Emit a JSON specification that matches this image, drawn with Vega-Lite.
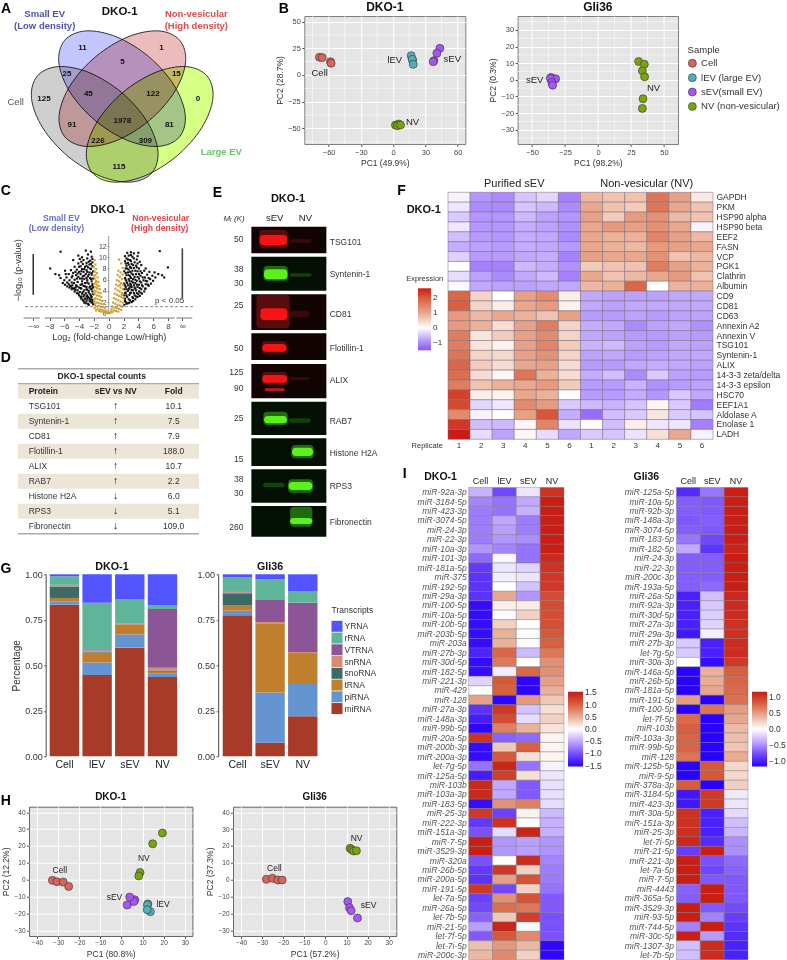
{"$schema":"https://vega.github.io/schema/vega-lite/v6.json","padding":0,"background":"white",
"config":{"font":"Liberation Sans","view":{"stroke":null},"text":{"baseline":"middle","align":"center","font":"Liberation Sans","color":"#222"},"axis":{"labelFont":"Liberation Sans","titleFont":"Liberation Sans","titleFontWeight":"normal","labelColor":"#444","titleColor":"#333","tickColor":"#555","gridColor":"#fff","grid":false,"tickSize":2.5,"domain":false,"labelFontSize":7.5,"titleFontSize":8.5,"labelPadding":1.5,"titlePadding":3},"legend":{"labelFont":"Liberation Sans","titleFont":"Liberation Sans","titleFontWeight":"normal","labelColor":"#333","titleColor":"#333","labelOverlap":false},"title":{"font":"Liberation Sans","fontWeight":"bold","fontSize":11,"color":"#111","anchor":"middle"}},
"datasets":{
"vb":[{"x":-2.1,"y":1.6},{"x":-2.3,"y":1.9},{"x":-2.2,"y":2.4},{"x":-2.5,"y":2.1},{"x":-2.8,"y":1.7},{"x":-2.6,"y":2.7},{"x":-3.0,"y":2.2},{"x":-2.4,"y":3.1},{"x":-2.1,"y":3.4},{"x":-3.2,"y":2.6},{"x":-3.5,"y":2.4},{"x":-2.9,"y":3.2},{"x":-3.4,"y":3.0},{"x":-2.2,"y":3.9},{"x":-2.7,"y":3.7},{"x":-3.8,"y":2.9},{"x":-3.1,"y":3.6},{"x":-4.0,"y":3.2},{"x":-3.6,"y":3.5},{"x":-2.4,"y":4.3},{"x":-2.1,"y":4.6},{"x":-2.9,"y":4.2},{"x":-3.3,"y":4.1},{"x":-3.9,"y":3.8},{"x":-4.3,"y":3.6},{"x":-4.6,"y":3.9},{"x":-4.2,"y":4.1},{"x":-3.7,"y":4.4},{"x":-2.5,"y":4.8},{"x":-3.0,"y":4.7},{"x":-2.2,"y":5.2},{"x":-3.4,"y":4.9},{"x":-4.0,"y":4.6},{"x":-4.7,"y":4.4},{"x":-5.0,"y":4.3},{"x":-5.3,"y":4.6},{"x":-5.6,"y":4.8},{"x":-4.4,"y":5.0},{"x":-3.8,"y":5.1},{"x":-2.7,"y":5.3},{"x":-3.2,"y":5.4},{"x":-2.3,"y":5.7},{"x":-4.9,"y":5.0},{"x":-5.4,"y":5.2},{"x":-5.9,"y":5.1},{"x":-6.2,"y":5.4},{"x":-5.0,"y":5.5},{"x":-4.2,"y":5.6},{"x":-3.6,"y":5.7},{"x":-2.9,"y":5.9},{"x":-2.1,"y":6.2},{"x":-2.5,"y":6.3},{"x":-3.3,"y":6.1},{"x":-3.9,"y":6.2},{"x":-4.6,"y":6.0},{"x":-5.3,"y":5.9},{"x":-6.0,"y":5.9},{"x":-4.1,"y":6.5},{"x":-3.5,"y":6.6},{"x":-2.8,"y":6.6},{"x":-2.3,"y":6.9},{"x":-3.1,"y":7.0},{"x":-3.8,"y":7.0},{"x":-4.4,"y":6.8},{"x":-5.0,"y":6.4},{"x":-5.7,"y":6.4},{"x":-6.5,"y":6.3},{"x":-6.7,"y":6.8},{"x":-7.2,"y":7.0},{"x":-2.6,"y":7.3},{"x":-3.4,"y":7.4},{"x":-2.1,"y":7.5},{"x":-4.0,"y":7.4},{"x":-4.8,"y":7.2},{"x":-5.4,"y":7.0},{"x":-3.0,"y":7.7},{"x":-2.4,"y":7.9},{"x":-3.6,"y":7.9},{"x":-4.3,"y":7.8},{"x":-5.1,"y":7.7},{"x":-2.8,"y":8.2},{"x":-3.2,"y":8.3},{"x":-2.2,"y":8.4},{"x":-3.8,"y":8.4},{"x":-4.6,"y":8.3},{"x":-2.6,"y":8.7},{"x":-3.5,"y":8.8},{"x":-3.0,"y":9.0},{"x":-2.2,"y":9.1},{"x":-4.1,"y":8.9},{"x":-2.5,"y":9.4},{"x":-3.4,"y":9.5},{"x":-2.9,"y":9.8},{"x":-3.9,"y":9.7},{"x":-2.3,"y":10.1},{"x":-3.1,"y":11.2},{"x":-6.5,"y":11.0},{"x":-7.9,"y":8.0},{"x":-4.8,"y":9.5},{"x":-5.9,"y":7.6},{"x":-2.7,"y":1.5},{"x":-3.3,"y":1.9},{"x":-2.4,"y":2.5},{"x":-3.7,"y":3.0},{"x":-4.5,"y":4.6},{"x":-5.1,"y":4.8},{"x":-2.8,"y":2.9},{"x":-3.0,"y":3.0},
{"x":-2.2,"y":2.0},{"x":-2.6,"y":2.3},{"x":-3.1,"y":1.8},{"x":-2.3,"y":2.9},{"x":-3.4,"y":2.2},{"x":-2.9,"y":2.6},{"x":-3.7,"y":2.6},{"x":-2.5,"y":3.4},{"x":-3.3,"y":3.3},{"x":-4.1,"y":3.5},{"x":-2.7,"y":4.0},{"x":-3.5,"y":3.8},{"x":-4.5,"y":4.2},{"x":-3.0,"y":4.3},{"x":-2.3,"y":4.4},{"x":-3.8,"y":4.5},{"x":-4.9,"y":4.5},{"x":-2.6,"y":4.6},{"x":-3.2,"y":4.8},{"x":-4.3,"y":4.8},{"x":-5.2,"y":4.9},{"x":-2.2,"y":4.9},{"x":-3.6,"y":5.2},{"x":-4.7,"y":5.4},{"x":-2.9,"y":5.5},{"x":-5.6,"y":5.5},{"x":-3.0,"y":6.3},{"x":-4.3,"y":6.2},{"x":-2.4,"y":6.1},{"x":-3.6,"y":6.2},{"x":-2.7,"y":6.9},{"x":-4.9,"y":6.7},{"x":-3.3,"y":6.7},{"x":-4.2,"y":7.1},{"x":-2.3,"y":7.2},{"x":-3.7,"y":7.5},{"x":-5.8,"y":7.0},{"x":-2.9,"y":7.4},{"x":-2.5,"y":8.0},{"x":-3.3,"y":7.9},{"x":-4.5,"y":7.4},{"x":-3.0,"y":8.5},{"x":-2.4,"y":8.8},{"x":-4.0,"y":8.3},{"x":-3.7,"y":9.2},{"x":-2.7,"y":9.2},{"x":-2.2,"y":9.7},{"x":-3.6,"y":10.0},{"x":-2.8,"y":10.5},{"x":-4.1,"y":10.3},{"x":-2.4,"y":11.0},
{"x":2.1,"y":1.5},{"x":2.3,"y":2.0},{"x":2.2,"y":2.6},{"x":2.6,"y":1.8},{"x":2.9,"y":2.3},{"x":2.5,"y":2.9},{"x":2.1,"y":3.2},{"x":3.1,"y":2.0},{"x":3.3,"y":2.7},{"x":2.8,"y":3.3},{"x":3.6,"y":2.5},{"x":2.3,"y":3.7},{"x":3.9,"y":2.9},{"x":3.5,"y":3.2},{"x":3.0,"y":3.7},{"x":2.6,"y":4.0},{"x":2.1,"y":4.3},{"x":4.2,"y":3.1},{"x":3.8,"y":3.6},{"x":3.3,"y":4.1},{"x":2.8,"y":4.5},{"x":2.3,"y":4.7},{"x":4.5,"y":3.5},{"x":4.1,"y":3.9},{"x":3.6,"y":4.4},{"x":3.1,"y":4.7},{"x":2.6,"y":5.0},{"x":2.1,"y":5.3},{"x":4.8,"y":3.9},{"x":4.4,"y":4.3},{"x":3.9,"y":4.7},{"x":3.4,"y":5.0},{"x":2.9,"y":5.3},{"x":5.0,"y":4.4},{"x":4.6,"y":4.8},{"x":4.1,"y":5.1},{"x":3.6,"y":5.4},{"x":3.1,"y":5.7},{"x":2.4,"y":5.7},{"x":5.4,"y":4.9},{"x":5.0,"y":5.2},{"x":4.4,"y":5.5},{"x":3.8,"y":5.8},{"x":3.3,"y":6.1},{"x":2.7,"y":6.1},{"x":2.2,"y":6.3},{"x":5.7,"y":5.3},{"x":5.2,"y":5.7},{"x":4.7,"y":5.9},{"x":4.1,"y":6.2},{"x":3.5,"y":6.5},{"x":2.9,"y":6.6},{"x":2.4,"y":6.8},{"x":6.0,"y":5.8},{"x":5.6,"y":6.1},{"x":4.9,"y":6.4},{"x":4.3,"y":6.7},{"x":3.7,"y":7.0},{"x":3.1,"y":7.1},{"x":2.6,"y":7.3},{"x":2.1,"y":7.5},{"x":6.3,"y":6.4},{"x":5.9,"y":6.7},{"x":5.2,"y":6.9},{"x":4.5,"y":7.2},{"x":3.9,"y":7.5},{"x":3.2,"y":7.6},{"x":2.7,"y":7.8},{"x":2.3,"y":8.0},{"x":6.7,"y":7.0},{"x":6.2,"y":7.3},{"x":5.5,"y":7.4},{"x":4.8,"y":7.6},{"x":3.4,"y":8.1},{"x":2.9,"y":8.3},{"x":2.4,"y":8.5},{"x":4.1,"y":8.0},{"x":3.7,"y":8.5},{"x":3.1,"y":8.8},{"x":2.6,"y":9.0},{"x":2.2,"y":9.3},{"x":3.5,"y":9.1},{"x":2.9,"y":9.5},{"x":2.4,"y":9.8},{"x":3.8,"y":9.6},{"x":3.2,"y":10.1},{"x":2.7,"y":10.3},{"x":3.4,"y":10.7},{"x":2.5,"y":10.8},{"x":3.0,"y":10.9},{"x":3.9,"y":10.2},{"x":4.2,"y":9.2},{"x":8.0,"y":8.2},{"x":6.9,"y":11.1},{"x":4.4,"y":8.6},{"x":5.0,"y":8.0},{"x":7.2,"y":6.8},{"x":7.5,"y":6.4},
{"x":2.4,"y":1.7},{"x":2.8,"y":1.9},{"x":3.3,"y":2.2},{"x":2.2,"y":2.2},{"x":2.7,"y":2.5},{"x":3.2,"y":2.9},{"x":3.7,"y":3.0},{"x":2.4,"y":3.2},{"x":2.9,"y":3.6},{"x":3.4,"y":3.6},{"x":4.0,"y":3.4},{"x":2.2,"y":3.6},{"x":2.7,"y":4.3},{"x":3.1,"y":4.2},{"x":3.7,"y":4.1},{"x":4.3,"y":3.7},{"x":2.4,"y":4.3},{"x":2.9,"y":4.8},{"x":3.5,"y":4.6},{"x":4.2,"y":4.5},{"x":4.9,"y":4.4},{"x":2.2,"y":5.0},{"x":3.0,"y":5.1},{"x":3.8,"y":5.1},{"x":4.5,"y":5.0},{"x":5.3,"y":5.1},{"x":2.5,"y":5.4},{"x":3.3,"y":5.5},{"x":4.2,"y":5.7},{"x":2.8,"y":5.8},{"x":3.6,"y":6.0},{"x":5.0,"y":5.8},{"x":2.3,"y":6.0},{"x":3.0,"y":6.3},{"x":3.9,"y":6.5},{"x":4.6,"y":6.4},{"x":5.4,"y":6.3},{"x":2.7,"y":6.8},{"x":3.3,"y":6.9},{"x":4.1,"y":7.0},{"x":2.3,"y":7.2},{"x":2.9,"y":7.4},{"x":3.6,"y":7.6},{"x":4.3,"y":7.5},{"x":2.5,"y":8.0},{"x":3.0,"y":8.1},{"x":3.8,"y":8.2},{"x":2.7,"y":8.7},{"x":3.3,"y":8.6},{"x":2.3,"y":8.9},{"x":3.0,"y":9.3},{"x":3.9,"y":8.9},{"x":2.6,"y":9.6},{"x":3.4,"y":9.8},{"x":2.2,"y":10.2},{"x":4.0,"y":10.8},{"x":3.0,"y":10.4}],
"vg":[{"x":-1.9,"y":9.5},{"x":-1.8,"y":8.7},{"x":-2.0,"y":8.2},{"x":-1.7,"y":7.9},{"x":-1.9,"y":7.4},{"x":-1.6,"y":7.2},{"x":-1.8,"y":6.8},{"x":-1.5,"y":6.4},{"x":-1.9,"y":6.2},{"x":-1.7,"y":5.8},{"x":-1.4,"y":5.6},{"x":-1.9,"y":5.3},{"x":-1.6,"y":5.1},{"x":-1.3,"y":4.9},{"x":-1.8,"y":4.7},{"x":-1.5,"y":4.4},{"x":-1.2,"y":4.3},{"x":-1.9,"y":4.1},{"x":-1.7,"y":3.9},{"x":-1.4,"y":3.7},{"x":-1.1,"y":3.6},{"x":-1.9,"y":3.4},{"x":-1.6,"y":3.2},{"x":-1.3,"y":3.1},{"x":-1.0,"y":2.9},{"x":-1.8,"y":2.7},{"x":-1.5,"y":2.6},{"x":-1.2,"y":2.4},{"x":-0.9,"y":2.2},{"x":-1.9,"y":2.1},{"x":-1.6,"y":1.9},{"x":-1.3,"y":1.8},{"x":-1.0,"y":1.7},{"x":-0.7,"y":1.6},{"x":-1.8,"y":1.4},{"x":-1.4,"y":1.3},{"x":-1.1,"y":1.2},{"x":-0.8,"y":1.1},{"x":-0.5,"y":1.0},{"x":-1.9,"y":0.9},{"x":-1.5,"y":0.8},{"x":-1.2,"y":0.7},{"x":-0.9,"y":0.6},{"x":-0.6,"y":0.5},{"x":-0.3,"y":0.5},{"x":-1.7,"y":0.5},{"x":-1.3,"y":0.4},{"x":-1.0,"y":0.3},{"x":-0.7,"y":0.25},{"x":-0.4,"y":0.2},{"x":-0.2,"y":0.15},{"x":-0.5,"y":0.1},{"x":-0.1,"y":0.05},{"x":-1.95,"y":2.5},{"x":-1.95,"y":3.7},{"x":-1.95,"y":6.7},{"x":-1.6,"y":4.6},{"x":-1.75,"y":5.5},{"x":-1.85,"y":1.7},
{"x":1.4,"y":9.6},{"x":1.7,"y":8.9},{"x":1.9,"y":8.1},{"x":1.3,"y":7.6},{"x":1.6,"y":7.3},{"x":1.9,"y":6.9},{"x":1.2,"y":6.8},{"x":1.5,"y":6.5},{"x":1.8,"y":6.1},{"x":1.1,"y":5.9},{"x":1.4,"y":5.7},{"x":1.7,"y":5.4},{"x":1.95,"y":5.0},{"x":1.0,"y":5.1},{"x":1.3,"y":4.9},{"x":1.6,"y":4.6},{"x":1.9,"y":4.3},{"x":0.9,"y":4.4},{"x":1.2,"y":4.1},{"x":1.5,"y":3.9},{"x":1.8,"y":3.6},{"x":0.8,"y":3.5},{"x":1.1,"y":3.3},{"x":1.4,"y":3.1},{"x":1.7,"y":2.9},{"x":1.95,"y":2.7},{"x":0.7,"y":2.7},{"x":1.0,"y":2.5},{"x":1.3,"y":2.3},{"x":1.6,"y":2.1},{"x":1.9,"y":1.9},{"x":0.6,"y":1.9},{"x":0.9,"y":1.7},{"x":1.2,"y":1.5},{"x":1.5,"y":1.4},{"x":1.8,"y":1.2},{"x":0.5,"y":1.2},{"x":0.8,"y":1.0},{"x":1.1,"y":0.9},{"x":1.4,"y":0.8},{"x":1.7,"y":0.6},{"x":0.4,"y":0.7},{"x":0.7,"y":0.5},{"x":1.0,"y":0.4},{"x":1.3,"y":0.3},{"x":0.3,"y":0.3},{"x":0.5,"y":0.2},{"x":0.2,"y":0.1},{"x":0.1,"y":0.05},{"x":0.0,"y":0.0},{"x":1.95,"y":3.4},{"x":1.95,"y":1.3},{"x":1.75,"y":3.3},{"x":1.55,"y":5.1}],
"fh":[{"p":"GAPDH","c":"S1","v":-0.1},{"p":"GAPDH","c":"S2","v":-0.9},{"p":"GAPDH","c":"S3","v":-1.0},{"p":"GAPDH","c":"S4","v":-0.5},{"p":"GAPDH","c":"S5","v":-0.35},{"p":"GAPDH","c":"S6","v":-1.1},{"p":"GAPDH","c":"N1","v":0.8},{"p":"GAPDH","c":"N2","v":0.7},{"p":"GAPDH","c":"N3","v":0.7},{"p":"GAPDH","c":"N4","v":1.7},{"p":"GAPDH","c":"N5","v":1.1},{"p":"GAPDH","c":"N6","v":0.25},
{"p":"PKM","c":"S1","v":-0.2},{"p":"PKM","c":"S2","v":-1.0},{"p":"PKM","c":"S3","v":-1.0},{"p":"PKM","c":"S4","v":-0.5},{"p":"PKM","c":"S5","v":-0.6},{"p":"PKM","c":"S6","v":-1.0},{"p":"PKM","c":"N1","v":1.0},{"p":"PKM","c":"N2","v":0.7},{"p":"PKM","c":"N3","v":0.6},{"p":"PKM","c":"N4","v":1.7},{"p":"PKM","c":"N5","v":1.0},{"p":"PKM","c":"N6","v":0.7},
{"p":"HSP90 alpha","c":"S1","v":-0.45},{"p":"HSP90 alpha","c":"S2","v":-0.9},{"p":"HSP90 alpha","c":"S3","v":-0.9},{"p":"HSP90 alpha","c":"S4","v":-0.6},{"p":"HSP90 alpha","c":"S5","v":-0.8},{"p":"HSP90 alpha","c":"S6","v":-0.9},{"p":"HSP90 alpha","c":"N1","v":1.1},{"p":"HSP90 alpha","c":"N2","v":0.6},{"p":"HSP90 alpha","c":"N3","v":1.2},{"p":"HSP90 alpha","c":"N4","v":1.3},{"p":"HSP90 alpha","c":"N5","v":0.8},{"p":"HSP90 alpha","c":"N6","v":0.7},
{"p":"HSP90 beta","c":"S1","v":-0.2},{"p":"HSP90 beta","c":"S2","v":-0.9},{"p":"HSP90 beta","c":"S3","v":-0.9},{"p":"HSP90 beta","c":"S4","v":-0.7},{"p":"HSP90 beta","c":"S5","v":-0.8},{"p":"HSP90 beta","c":"S6","v":-0.95},{"p":"HSP90 beta","c":"N1","v":1.0},{"p":"HSP90 beta","c":"N2","v":1.2},{"p":"HSP90 beta","c":"N3","v":1.1},{"p":"HSP90 beta","c":"N4","v":1.3},{"p":"HSP90 beta","c":"N5","v":1.0},{"p":"HSP90 beta","c":"N6","v":-0.1},
{"p":"EEF2","c":"S1","v":-0.55},{"p":"EEF2","c":"S2","v":-0.85},{"p":"EEF2","c":"S3","v":-0.9},{"p":"EEF2","c":"S4","v":-0.7},{"p":"EEF2","c":"S5","v":-0.75},{"p":"EEF2","c":"S6","v":-1.0},{"p":"EEF2","c":"N1","v":1.0},{"p":"EEF2","c":"N2","v":0.9},{"p":"EEF2","c":"N3","v":0.9},{"p":"EEF2","c":"N4","v":1.5},{"p":"EEF2","c":"N5","v":1.1},{"p":"EEF2","c":"N6","v":0.8},
{"p":"FASN","c":"S1","v":-0.7},{"p":"FASN","c":"S2","v":-0.8},{"p":"FASN","c":"S3","v":-0.85},{"p":"FASN","c":"S4","v":-0.7},{"p":"FASN","c":"S5","v":-0.75},{"p":"FASN","c":"S6","v":-0.85},{"p":"FASN","c":"N1","v":1.0},{"p":"FASN","c":"N2","v":0.9},{"p":"FASN","c":"N3","v":0.8},{"p":"FASN","c":"N4","v":1.2},{"p":"FASN","c":"N5","v":1.1},{"p":"FASN","c":"N6","v":1.0},
{"p":"VCP","c":"S1","v":-0.4},{"p":"VCP","c":"S2","v":-0.85},{"p":"VCP","c":"S3","v":-0.85},{"p":"VCP","c":"S4","v":-0.75},{"p":"VCP","c":"S5","v":-0.7},{"p":"VCP","c":"S6","v":-1.1},{"p":"VCP","c":"N1","v":1.1},{"p":"VCP","c":"N2","v":1.0},{"p":"VCP","c":"N3","v":1.0},{"p":"VCP","c":"N4","v":1.3},{"p":"VCP","c":"N5","v":0.7},{"p":"VCP","c":"N6","v":0.8},
{"p":"PGK1","c":"S1","v":0.0},{"p":"PGK1","c":"S2","v":-1.1},{"p":"PGK1","c":"S3","v":-1.1},{"p":"PGK1","c":"S4","v":-0.6},{"p":"PGK1","c":"S5","v":-0.7},{"p":"PGK1","c":"S6","v":-0.95},{"p":"PGK1","c":"N1","v":0.6},{"p":"PGK1","c":"N2","v":0.7},{"p":"PGK1","c":"N3","v":0.7},{"p":"PGK1","c":"N4","v":1.6},{"p":"PGK1","c":"N5","v":1.1},{"p":"PGK1","c":"N6","v":0.9},
{"p":"Clathrin","c":"S1","v":-0.3},{"p":"Clathrin","c":"S2","v":-0.8},{"p":"Clathrin","c":"S3","v":-1.0},{"p":"Clathrin","c":"S4","v":-0.75},{"p":"Clathrin","c":"S5","v":-0.6},{"p":"Clathrin","c":"S6","v":-1.1},{"p":"Clathrin","c":"N1","v":1.0},{"p":"Clathrin","c":"N2","v":0.7},{"p":"Clathrin","c":"N3","v":0.8},{"p":"Clathrin","c":"N4","v":1.0},{"p":"Clathrin","c":"N5","v":1.2},{"p":"Clathrin","c":"N6","v":0.7},
{"p":"Albumin","c":"S1","v":-0.05},{"p":"Albumin","c":"S2","v":-0.75},{"p":"Albumin","c":"S3","v":-0.8},{"p":"Albumin","c":"S4","v":-0.8},{"p":"Albumin","c":"S5","v":-0.75},{"p":"Albumin","c":"S6","v":-0.75},{"p":"Albumin","c":"N1","v":0.8},{"p":"Albumin","c":"N2","v":0.9},{"p":"Albumin","c":"N3","v":1.9},{"p":"Albumin","c":"N4","v":0.0},{"p":"Albumin","c":"N5","v":0.85},{"p":"Albumin","c":"N6","v":0.9},
{"p":"CD9","c":"S1","v":1.9},{"p":"CD9","c":"S2","v":0.5},{"p":"CD9","c":"S3","v":0.0},{"p":"CD9","c":"S4","v":1.1},{"p":"CD9","c":"S5","v":1.4},{"p":"CD9","c":"S6","v":0.2},{"p":"CD9","c":"N1","v":-0.75},{"p":"CD9","c":"N2","v":-0.8},{"p":"CD9","c":"N3","v":-0.8},{"p":"CD9","c":"N4","v":-0.8},{"p":"CD9","c":"N5","v":-0.75},{"p":"CD9","c":"N6","v":-0.75},
{"p":"CD81","c":"S1","v":2.0},{"p":"CD81","c":"S2","v":0.5},{"p":"CD81","c":"S3","v":0.2},{"p":"CD81","c":"S4","v":1.0},{"p":"CD81","c":"S5","v":1.2},{"p":"CD81","c":"S6","v":0.15},{"p":"CD81","c":"N1","v":-0.75},{"p":"CD81","c":"N2","v":-0.8},{"p":"CD81","c":"N3","v":-0.75},{"p":"CD81","c":"N4","v":-0.75},{"p":"CD81","c":"N5","v":-0.75},{"p":"CD81","c":"N6","v":-0.75},
{"p":"CD63","c":"S1","v":1.2},{"p":"CD63","c":"S2","v":0.8},{"p":"CD63","c":"S3","v":1.0},{"p":"CD63","c":"S4","v":0.9},{"p":"CD63","c":"S5","v":0.7},{"p":"CD63","c":"S6","v":1.1},{"p":"CD63","c":"N1","v":-0.85},{"p":"CD63","c":"N2","v":-0.85},{"p":"CD63","c":"N3","v":-0.8},{"p":"CD63","c":"N4","v":-0.85},{"p":"CD63","c":"N5","v":-0.8},{"p":"CD63","c":"N6","v":-0.8},
{"p":"Annexin A2","c":"S1","v":1.2},{"p":"Annexin A2","c":"S2","v":0.9},{"p":"Annexin A2","c":"S3","v":0.4},{"p":"Annexin A2","c":"S4","v":1.1},{"p":"Annexin A2","c":"S5","v":1.6},{"p":"Annexin A2","c":"S6","v":0.5},{"p":"Annexin A2","c":"N1","v":-0.7},{"p":"Annexin A2","c":"N2","v":-0.75},{"p":"Annexin A2","c":"N3","v":-1.0},{"p":"Annexin A2","c":"N4","v":-0.8},{"p":"Annexin A2","c":"N5","v":-0.75},{"p":"Annexin A2","c":"N6","v":-0.95},
{"p":"Annexin V","c":"S1","v":1.6},{"p":"Annexin V","c":"S2","v":0.3},{"p":"Annexin V","c":"S3","v":0.6},{"p":"Annexin V","c":"S4","v":1.1},{"p":"Annexin V","c":"S5","v":1.4},{"p":"Annexin V","c":"S6","v":0.5},{"p":"Annexin V","c":"N1","v":-0.75},{"p":"Annexin V","c":"N2","v":-0.8},{"p":"Annexin V","c":"N3","v":-0.85},{"p":"Annexin V","c":"N4","v":-0.85},{"p":"Annexin V","c":"N5","v":-0.8},{"p":"Annexin V","c":"N6","v":-0.85},
{"p":"TSG101","c":"S1","v":1.6},{"p":"TSG101","c":"S2","v":0.3},{"p":"TSG101","c":"S3","v":0.15},{"p":"TSG101","c":"S4","v":1.1},{"p":"TSG101","c":"S5","v":1.5},{"p":"TSG101","c":"S6","v":0.6},{"p":"TSG101","c":"N1","v":-0.65},{"p":"TSG101","c":"N2","v":-0.6},{"p":"TSG101","c":"N3","v":-0.8},{"p":"TSG101","c":"N4","v":-0.85},{"p":"TSG101","c":"N5","v":-0.75},{"p":"TSG101","c":"N6","v":-0.8},
{"p":"Syntenin-1","c":"S1","v":1.7},{"p":"Syntenin-1","c":"S2","v":0.5},{"p":"Syntenin-1","c":"S3","v":0.45},{"p":"Syntenin-1","c":"S4","v":1.1},{"p":"Syntenin-1","c":"S5","v":1.3},{"p":"Syntenin-1","c":"S6","v":0.5},{"p":"Syntenin-1","c":"N1","v":-0.8},{"p":"Syntenin-1","c":"N2","v":-0.75},{"p":"Syntenin-1","c":"N3","v":-0.85},{"p":"Syntenin-1","c":"N4","v":-0.8},{"p":"Syntenin-1","c":"N5","v":-0.75},{"p":"Syntenin-1","c":"N6","v":-0.75},
{"p":"ALIX","c":"S1","v":1.9},{"p":"ALIX","c":"S2","v":0.6},{"p":"ALIX","c":"S3","v":0.4},{"p":"ALIX","c":"S4","v":1.0},{"p":"ALIX","c":"S5","v":1.1},{"p":"ALIX","c":"S6","v":0.4},{"p":"ALIX","c":"N1","v":-0.85},{"p":"ALIX","c":"N2","v":-0.85},{"p":"ALIX","c":"N3","v":-0.75},{"p":"ALIX","c":"N4","v":-0.7},{"p":"ALIX","c":"N5","v":-0.75},{"p":"ALIX","c":"N6","v":-0.8},
{"p":"14-3-3 zeta/delta","c":"S1","v":1.8},{"p":"14-3-3 zeta/delta","c":"S2","v":0.4},{"p":"14-3-3 zeta/delta","c":"S3","v":0.1},{"p":"14-3-3 zeta/delta","c":"S4","v":1.7},{"p":"14-3-3 zeta/delta","c":"S5","v":0.9},{"p":"14-3-3 zeta/delta","c":"S6","v":0.4},{"p":"14-3-3 zeta/delta","c":"N1","v":-0.7},{"p":"14-3-3 zeta/delta","c":"N2","v":-0.55},{"p":"14-3-3 zeta/delta","c":"N3","v":-1.0},{"p":"14-3-3 zeta/delta","c":"N4","v":-0.45},{"p":"14-3-3 zeta/delta","c":"N5","v":-0.8},{"p":"14-3-3 zeta/delta","c":"N6","v":-0.85},
{"p":"14-3-3 epsilon","c":"S1","v":1.6},{"p":"14-3-3 epsilon","c":"S2","v":0.7},{"p":"14-3-3 epsilon","c":"S3","v":0.9},{"p":"14-3-3 epsilon","c":"S4","v":1.0},{"p":"14-3-3 epsilon","c":"S5","v":1.2},{"p":"14-3-3 epsilon","c":"S6","v":0.6},{"p":"14-3-3 epsilon","c":"N1","v":-0.85},{"p":"14-3-3 epsilon","c":"N2","v":-0.85},{"p":"14-3-3 epsilon","c":"N3","v":-0.65},{"p":"14-3-3 epsilon","c":"N4","v":-0.95},{"p":"14-3-3 epsilon","c":"N5","v":-0.85},{"p":"14-3-3 epsilon","c":"N6","v":-0.8},
{"p":"HSC70","c":"S1","v":2.3},{"p":"HSC70","c":"S2","v":0.2},{"p":"HSC70","c":"S3","v":0.15},{"p":"HSC70","c":"S4","v":1.0},{"p":"HSC70","c":"S5","v":0.9},{"p":"HSC70","c":"S6","v":0.0},{"p":"HSC70","c":"N1","v":-0.85},{"p":"HSC70","c":"N2","v":-0.85},{"p":"HSC70","c":"N3","v":-0.7},{"p":"HSC70","c":"N4","v":-0.9},{"p":"HSC70","c":"N5","v":-0.45},{"p":"HSC70","c":"N6","v":-0.75},
{"p":"EEF1A1","c":"S1","v":2.2},{"p":"EEF1A1","c":"S2","v":-0.35},{"p":"EEF1A1","c":"S3","v":-0.2},{"p":"EEF1A1","c":"S4","v":1.4},{"p":"EEF1A1","c":"S5","v":1.2},{"p":"EEF1A1","c":"S6","v":-0.45},{"p":"EEF1A1","c":"N1","v":-0.6},{"p":"EEF1A1","c":"N2","v":-0.65},{"p":"EEF1A1","c":"N3","v":-0.5},{"p":"EEF1A1","c":"N4","v":0.1},{"p":"EEF1A1","c":"N5","v":-0.45},{"p":"EEF1A1","c":"N6","v":-1.15},
{"p":"Aldolase A","c":"S1","v":1.4},{"p":"Aldolase A","c":"S2","v":-0.1},{"p":"Aldolase A","c":"S3","v":0.0},{"p":"Aldolase A","c":"S4","v":1.1},{"p":"Aldolase A","c":"S5","v":2.1},{"p":"Aldolase A","c":"S6","v":-0.7},{"p":"Aldolase A","c":"N1","v":-1.3},{"p":"Aldolase A","c":"N2","v":-0.55},{"p":"Aldolase A","c":"N3","v":-0.45},{"p":"Aldolase A","c":"N4","v":0.3},{"p":"Aldolase A","c":"N5","v":-0.45},{"p":"Aldolase A","c":"N6","v":-0.5},
{"p":"Enolase 1","c":"S1","v":2.4},{"p":"Enolase 1","c":"S2","v":-0.55},{"p":"Enolase 1","c":"S3","v":-0.6},{"p":"Enolase 1","c":"S4","v":0.1},{"p":"Enolase 1","c":"S5","v":1.5},{"p":"Enolase 1","c":"S6","v":-0.25},{"p":"Enolase 1","c":"N1","v":-0.02},{"p":"Enolase 1","c":"N2","v":-0.55},{"p":"Enolase 1","c":"N3","v":0.2},{"p":"Enolase 1","c":"N4","v":-0.2},{"p":"Enolase 1","c":"N5","v":-0.2},{"p":"Enolase 1","c":"N6","v":-1.1},
{"p":"LADH","c":"S1","v":2.68},{"p":"LADH","c":"S2","v":-0.3},{"p":"LADH","c":"S3","v":-0.8},{"p":"LADH","c":"S4","v":0.1},{"p":"LADH","c":"S5","v":-0.3},{"p":"LADH","c":"S6","v":-0.75},{"p":"LADH","c":"N1","v":-0.45},{"p":"LADH","c":"N2","v":-0.5},{"p":"LADH","c":"N3","v":-0.25},{"p":"LADH","c":"N4","v":0.35},{"p":"LADH","c":"N5","v":1.0},{"p":"LADH","c":"N6","v":-0.1}],
"i1":[{"m":"miR-92a-3p","c":"Cell","v":-0.45},{"m":"miR-92a-3p","c":"lEV","v":-1.05},{"m":"miR-92a-3p","c":"sEV","v":-0.15},{"m":"miR-92a-3p","c":"NV","v":1.35},{"m":"miR-3184-5p","c":"Cell","v":-0.7},{"m":"miR-3184-5p","c":"lEV","v":-0.8},{"m":"miR-3184-5p","c":"sEV","v":-0.5},{"m":"miR-3184-5p","c":"NV","v":1.5},{"m":"miR-423-3p","c":"Cell","v":-0.75},{"m":"miR-423-3p","c":"lEV","v":-0.8},{"m":"miR-423-3p","c":"sEV","v":-0.45},{"m":"miR-423-3p","c":"NV","v":1.5},{"m":"miR-3074-5p","c":"Cell","v":-0.75},{"m":"miR-3074-5p","c":"lEV","v":-0.5},{"m":"miR-3074-5p","c":"sEV","v":-0.75},{"m":"miR-3074-5p","c":"NV","v":1.5},{"m":"miR-24-3p","c":"Cell","v":-0.75},{"m":"miR-24-3p","c":"lEV","v":-0.55},{"m":"miR-24-3p","c":"sEV","v":-0.75},{"m":"miR-24-3p","c":"NV","v":1.5},{"m":"miR-22-3p","c":"Cell","v":-0.75},{"m":"miR-22-3p","c":"lEV","v":-0.6},{"m":"miR-22-3p","c":"sEV","v":-0.65},{"m":"miR-22-3p","c":"NV","v":1.5},{"m":"miR-10a-3p","c":"Cell","v":-0.6},{"m":"miR-10a-3p","c":"lEV","v":-0.7},{"m":"miR-10a-3p","c":"sEV","v":-0.8},{"m":"miR-10a-3p","c":"NV","v":1.5},{"m":"miR-101-3p","c":"Cell","v":-0.85},{"m":"miR-101-3p","c":"lEV","v":-0.05},{"m":"miR-101-3p","c":"sEV","v":-0.8},{"m":"miR-101-3p","c":"NV","v":1.4},{"m":"miR-181a-5p","c":"Cell","v":-1.15},{"m":"miR-181a-5p","c":"lEV","v":-0.15},{"m":"miR-181a-5p","c":"sEV","v":-0.25},{"m":"miR-181a-5p","c":"NV","v":1.35},{"m":"miR-375","c":"Cell","v":-1.2},{"m":"miR-375","c":"lEV","v":-0.1},{"m":"miR-375","c":"sEV","v":-0.15},{"m":"miR-375","c":"NV","v":1.3},{"m":"miR-192-5p","c":"Cell","v":-1.2},{"m":"miR-192-5p","c":"lEV","v":0},{"m":"miR-192-5p","c":"sEV","v":-0.35},{"m":"miR-192-5p","c":"NV","v":1.3},{"m":"miR-29a-3p","c":"Cell","v":-1.2},{"m":"miR-29a-3p","c":"lEV","v":0.55},{"m":"miR-29a-3p","c":"sEV","v":-0.6},{"m":"miR-29a-3p","c":"NV","v":1.15},{"m":"miR-100-5p","c":"Cell","v":-1.45},{"m":"miR-100-5p","c":"lEV","v":0.1},{"m":"miR-100-5p","c":"sEV","v":0.12},{"m":"miR-100-5p","c":"NV","v":1.15},{"m":"miR-10a-5p","c":"Cell","v":-1.45},{"m":"miR-10a-5p","c":"lEV","v":-0.03},{"m":"miR-10a-5p","c":"sEV","v":0.3},{"m":"miR-10a-5p","c":"NV","v":1.15},{"m":"miR-10b-5p","c":"Cell","v":-1.45},{"m":"miR-10b-5p","c":"lEV","v":0.3},{"m":"miR-10b-5p","c":"sEV","v":0},{"m":"miR-10b-5p","c":"NV","v":1.12},{"m":"miR-203b-5p","c":"Cell","v":-1.45},{"m":"miR-203b-5p","c":"lEV","v":0.5},{"m":"miR-203b-5p","c":"sEV","v":-0.03},{"m":"miR-203b-5p","c":"NV","v":1.05},{"m":"miR-203a","c":"Cell","v":-1.45},{"m":"miR-203a","c":"lEV","v":0.5},{"m":"miR-203a","c":"sEV","v":-0.03},{"m":"miR-203a","c":"NV","v":1.0},{"m":"miR-27b-3p","c":"Cell","v":-1.3},{"m":"miR-27b-3p","c":"lEV","v":0.95},{"m":"miR-27b-3p","c":"sEV","v":-0.4},{"m":"miR-27b-3p","c":"NV","v":0.85},{"m":"miR-30d-5p","c":"Cell","v":-1.45},{"m":"miR-30d-5p","c":"lEV","v":0.85},{"m":"miR-30d-5p","c":"sEV","v":0},{"m":"miR-30d-5p","c":"NV","v":0.7},{"m":"miR-182-5p","c":"Cell","v":-1.45},{"m":"miR-182-5p","c":"lEV","v":-0.1},{"m":"miR-182-5p","c":"sEV","v":0.95},{"m":"miR-182-5p","c":"NV","v":0.7},{"m":"miR-221-3p","c":"Cell","v":-0.25},{"m":"miR-221-3p","c":"lEV","v":1.05},{"m":"miR-221-3p","c":"sEV","v":-1.5},{"m":"miR-221-3p","c":"NV","v":0.6},{"m":"miR-429","c":"Cell","v":-0.02},{"m":"miR-429","c":"lEV","v":1.0},{"m":"miR-429","c":"sEV","v":-1.5},{"m":"miR-429","c":"NV","v":0.5},{"m":"miR-128","c":"Cell","v":0.6},{"m":"miR-128","c":"lEV","v":-1.5},{"m":"miR-128","c":"sEV","v":0.65},{"m":"miR-128","c":"NV","v":0.35},{"m":"miR-27a-3p","c":"Cell","v":-1.2},{"m":"miR-27a-3p","c":"lEV","v":1.3},{"m":"miR-27a-3p","c":"sEV","v":-0.35},{"m":"miR-27a-3p","c":"NV","v":0.2},{"m":"miR-148a-3p","c":"Cell","v":-1.35},{"m":"miR-148a-3p","c":"lEV","v":1.15},{"m":"miR-148a-3p","c":"sEV","v":-0.2},{"m":"miR-148a-3p","c":"NV","v":0.3},{"m":"miR-99b-5p","c":"Cell","v":-1.5},{"m":"miR-99b-5p","c":"lEV","v":0.8},{"m":"miR-99b-5p","c":"sEV","v":0.5},{"m":"miR-99b-5p","c":"NV","v":0.18},{"m":"miR-20a-5p","c":"Cell","v":1.35},{"m":"miR-20a-5p","c":"lEV","v":-0.9},{"m":"miR-20a-5p","c":"sEV","v":-0.85},{"m":"miR-20a-5p","c":"NV","v":0.07},{"m":"miR-200b-3p","c":"Cell","v":-1.45},{"m":"miR-200b-3p","c":"lEV","v":0.35},{"m":"miR-200b-3p","c":"sEV","v":1.0},{"m":"miR-200b-3p","c":"NV","v":0.07},{"m":"miR-200a-3p","c":"Cell","v":-1.45},{"m":"miR-200a-3p","c":"lEV","v":1.05},{"m":"miR-200a-3p","c":"sEV","v":0.2},{"m":"miR-200a-3p","c":"NV","v":0.07},{"m":"let-7g-5p","c":"Cell","v":-0.8},{"m":"let-7g-5p","c":"lEV","v":1.45},{"m":"let-7g-5p","c":"sEV","v":-0.8},{"m":"let-7g-5p","c":"NV","v":-0.07},{"m":"miR-125a-5p","c":"Cell","v":-1.35},{"m":"miR-125a-5p","c":"lEV","v":1.25},{"m":"miR-125a-5p","c":"sEV","v":0.2},{"m":"miR-125a-5p","c":"NV","v":-0.15},{"m":"miR-103b","c":"Cell","v":1.42},{"m":"miR-103b","c":"lEV","v":-0.5},{"m":"miR-103b","c":"sEV","v":-0.95},{"m":"miR-103b","c":"NV","v":-0.18},{"m":"miR-103a-3p","c":"Cell","v":1.42},{"m":"miR-103a-3p","c":"lEV","v":-0.5},{"m":"miR-103a-3p","c":"sEV","v":-0.95},{"m":"miR-103a-3p","c":"NV","v":-0.18},{"m":"miR-183-5p","c":"Cell","v":-1.45},{"m":"miR-183-5p","c":"lEV","v":0.7},{"m":"miR-183-5p","c":"sEV","v":0.8},{"m":"miR-183-5p","c":"NV","v":-0.2},{"m":"miR-25-3p","c":"Cell","v":1.3},{"m":"miR-25-3p","c":"lEV","v":-1.1},{"m":"miR-25-3p","c":"sEV","v":0.08},{"m":"miR-25-3p","c":"NV","v":-0.4},{"m":"miR-222-3p","c":"Cell","v":-1.15},{"m":"miR-222-3p","c":"lEV","v":1.35},{"m":"miR-222-3p","c":"sEV","v":0.02},{"m":"miR-222-3p","c":"NV","v":-0.45},{"m":"miR-151a-3p","c":"Cell","v":-1.0},{"m":"miR-151a-3p","c":"lEV","v":-0.2},{"m":"miR-151a-3p","c":"sEV","v":1.45},{"m":"miR-151a-3p","c":"NV","v":-0.45},{"m":"miR-7-5p","c":"Cell","v":1.5},{"m":"miR-7-5p","c":"lEV","v":-0.6},{"m":"miR-7-5p","c":"sEV","v":-0.55},{"m":"miR-7-5p","c":"NV","v":-0.6},{"m":"miR-3529-3p","c":"Cell","v":1.5},{"m":"miR-3529-3p","c":"lEV","v":-0.6},{"m":"miR-3529-3p","c":"sEV","v":-0.55},{"m":"miR-3529-3p","c":"NV","v":-0.62},{"m":"miR-320a","c":"Cell","v":-1.0},{"m":"miR-320a","c":"lEV","v":0},{"m":"miR-320a","c":"sEV","v":1.4},{"m":"miR-320a","c":"NV","v":-0.7},{"m":"miR-26b-5p","c":"Cell","v":-1.15},{"m":"miR-26b-5p","c":"lEV","v":1.3},{"m":"miR-26b-5p","c":"sEV","v":0.3},{"m":"miR-26b-5p","c":"NV","v":-0.75},{"m":"miR-200a-5p","c":"Cell","v":-1.2},{"m":"miR-200a-5p","c":"lEV","v":0.6},{"m":"miR-200a-5p","c":"sEV","v":1.1},{"m":"miR-200a-5p","c":"NV","v":-0.75},{"m":"miR-191-5p","c":"Cell","v":1.3},{"m":"miR-191-5p","c":"lEV","v":-1.05},{"m":"miR-191-5p","c":"sEV","v":0.3},{"m":"miR-191-5p","c":"NV","v":-0.8},{"m":"let-7a-5p","c":"Cell","v":-1.1},{"m":"let-7a-5p","c":"lEV","v":0.7},{"m":"let-7a-5p","c":"sEV","v":1.1},{"m":"let-7a-5p","c":"NV","v":-0.95},{"m":"miR-26a-5p","c":"Cell","v":-1.05},{"m":"miR-26a-5p","c":"lEV","v":0.9},{"m":"miR-26a-5p","c":"sEV","v":0.85},{"m":"miR-26a-5p","c":"NV","v":-0.95},{"m":"let-7b-5p","c":"Cell","v":-0.9},{"m":"let-7b-5p","c":"lEV","v":0.35},{"m":"let-7b-5p","c":"sEV","v":1.25},{"m":"let-7b-5p","c":"NV","v":-1.0},{"m":"miR-21-5p","c":"Cell","v":-0.55},{"m":"miR-21-5p","c":"lEV","v":1.45},{"m":"miR-21-5p","c":"sEV","v":-0.03},{"m":"miR-21-5p","c":"NV","v":-1.0},{"m":"let-7f-5p","c":"Cell","v":-0.95},{"m":"let-7f-5p","c":"lEV","v":1.05},{"m":"let-7f-5p","c":"sEV","v":0.75},{"m":"let-7f-5p","c":"NV","v":-1.0},{"m":"let-7i-5p","c":"Cell","v":0.4},{"m":"let-7i-5p","c":"lEV","v":0.65},{"m":"let-7i-5p","c":"sEV","v":0.45},{"m":"let-7i-5p","c":"NV","v":-1.5},{"m":"miR-200c-3p","c":"Cell","v":0.45},{"m":"miR-200c-3p","c":"lEV","v":0.75},{"m":"miR-200c-3p","c":"sEV","v":0.3},{"m":"miR-200c-3p","c":"NV","v":-1.5}],
"i2":[{"m":"miR-125a-5p","c":"Cell","v":-0.95},{"m":"miR-125a-5p","c":"sEV","v":-0.6},{"m":"miR-125a-5p","c":"NV","v":1.15},{"m":"miR-10a-5p","c":"Cell","v":-0.7},{"m":"miR-10a-5p","c":"sEV","v":-0.72},{"m":"miR-10a-5p","c":"NV","v":1.15},{"m":"miR-92b-3p","c":"Cell","v":-0.7},{"m":"miR-92b-3p","c":"sEV","v":-0.72},{"m":"miR-92b-3p","c":"NV","v":1.15},{"m":"miR-148a-3p","c":"Cell","v":-0.72},{"m":"miR-148a-3p","c":"sEV","v":-0.7},{"m":"miR-148a-3p","c":"NV","v":1.15},{"m":"miR-3074-5p","c":"Cell","v":-0.7},{"m":"miR-3074-5p","c":"sEV","v":-0.72},{"m":"miR-3074-5p","c":"NV","v":1.15},{"m":"miR-183-5p","c":"Cell","v":-0.6},{"m":"miR-183-5p","c":"sEV","v":-0.8},{"m":"miR-183-5p","c":"NV","v":1.15},{"m":"miR-182-5p","c":"Cell","v":-0.4},{"m":"miR-182-5p","c":"sEV","v":-0.9},{"m":"miR-182-5p","c":"NV","v":1.12},{"m":"miR-24-3p","c":"Cell","v":-0.7},{"m":"miR-24-3p","c":"sEV","v":-0.7},{"m":"miR-24-3p","c":"NV","v":1.15},{"m":"miR-22-3p","c":"Cell","v":-0.7},{"m":"miR-22-3p","c":"sEV","v":-0.7},{"m":"miR-22-3p","c":"NV","v":1.15},{"m":"miR-200c-3p","c":"Cell","v":-0.7},{"m":"miR-200c-3p","c":"sEV","v":-0.7},{"m":"miR-200c-3p","c":"NV","v":1.15},{"m":"miR-193a-5p","c":"Cell","v":-0.7},{"m":"miR-193a-5p","c":"sEV","v":-0.65},{"m":"miR-193a-5p","c":"NV","v":1.15},{"m":"miR-26a-5p","c":"Cell","v":-1.0},{"m":"miR-26a-5p","c":"sEV","v":-0.3},{"m":"miR-26a-5p","c":"NV","v":1.1},{"m":"miR-92a-3p","c":"Cell","v":-1.0},{"m":"miR-92a-3p","c":"sEV","v":-0.25},{"m":"miR-92a-3p","c":"NV","v":1.08},{"m":"miR-30d-5p","c":"Cell","v":-1.0},{"m":"miR-30d-5p","c":"sEV","v":-0.22},{"m":"miR-30d-5p","c":"NV","v":1.08},{"m":"miR-27a-3p","c":"Cell","v":-1.0},{"m":"miR-27a-3p","c":"sEV","v":-0.2},{"m":"miR-27a-3p","c":"NV","v":1.05},{"m":"miR-29a-3p","c":"Cell","v":-1.05},{"m":"miR-29a-3p","c":"sEV","v":-0.07},{"m":"miR-29a-3p","c":"NV","v":1.05},{"m":"miR-27b-3p","c":"Cell","v":-0.25},{"m":"miR-27b-3p","c":"sEV","v":-1.0},{"m":"miR-27b-3p","c":"NV","v":1.08},{"m":"let-7g-5p","c":"Cell","v":-0.25},{"m":"let-7g-5p","c":"sEV","v":-1.0},{"m":"let-7g-5p","c":"NV","v":1.08},{"m":"miR-30a-3p","c":"Cell","v":0},{"m":"miR-30a-3p","c":"sEV","v":-1.1},{"m":"miR-30a-3p","c":"NV","v":1.0},{"m":"miR-146a-5p","c":"Cell","v":-1.17},{"m":"miR-146a-5p","c":"sEV","v":0.4},{"m":"miR-146a-5p","c":"NV","v":0.8},{"m":"miR-26b-5p","c":"Cell","v":-1.17},{"m":"miR-26b-5p","c":"sEV","v":0.42},{"m":"miR-26b-5p","c":"NV","v":0.78},{"m":"miR-181a-5p","c":"Cell","v":-1.17},{"m":"miR-181a-5p","c":"sEV","v":0.45},{"m":"miR-181a-5p","c":"NV","v":0.75},{"m":"miR-191-5p","c":"Cell","v":0.5},{"m":"miR-191-5p","c":"sEV","v":-1.17},{"m":"miR-191-5p","c":"NV","v":0.72},{"m":"miR-100-5p","c":"Cell","v":-1.17},{"m":"miR-100-5p","c":"sEV","v":0.7},{"m":"miR-100-5p","c":"NV","v":0.5},{"m":"let-7f-5p","c":"Cell","v":0.75},{"m":"let-7f-5p","c":"sEV","v":-1.17},{"m":"let-7f-5p","c":"NV","v":0.45},{"m":"miR-103b","c":"Cell","v":0.8},{"m":"miR-103b","c":"sEV","v":-1.17},{"m":"miR-103b","c":"NV","v":0.35},{"m":"miR-103a-3p","c":"Cell","v":0.78},{"m":"miR-103a-3p","c":"sEV","v":-1.17},{"m":"miR-103a-3p","c":"NV","v":0.33},{"m":"miR-99b-5p","c":"Cell","v":0.78},{"m":"miR-99b-5p","c":"sEV","v":-1.17},{"m":"miR-99b-5p","c":"NV","v":0.3},{"m":"miR-128","c":"Cell","v":0.7},{"m":"miR-128","c":"sEV","v":-1.17},{"m":"miR-128","c":"NV","v":0.42},{"m":"miR-125b-5p","c":"Cell","v":-1.17},{"m":"miR-125b-5p","c":"sEV","v":0.85},{"m":"miR-125b-5p","c":"NV","v":0.2},{"m":"miR-9-5p","c":"Cell","v":-1.17},{"m":"miR-9-5p","c":"sEV","v":0.85},{"m":"miR-9-5p","c":"NV","v":0.2},{"m":"miR-378a-3p","c":"Cell","v":0.82},{"m":"miR-378a-3p","c":"sEV","v":-1.17},{"m":"miR-378a-3p","c":"NV","v":0.25},{"m":"miR-3184-5p","c":"Cell","v":-1.05},{"m":"miR-3184-5p","c":"sEV","v":1.0},{"m":"miR-3184-5p","c":"NV","v":-0.1},{"m":"miR-423-3p","c":"Cell","v":-1.05},{"m":"miR-423-3p","c":"sEV","v":1.0},{"m":"miR-423-3p","c":"NV","v":-0.12},{"m":"miR-30a-5p","c":"Cell","v":1.05},{"m":"miR-30a-5p","c":"sEV","v":-1.0},{"m":"miR-30a-5p","c":"NV","v":-0.17},{"m":"miR-151a-3p","c":"Cell","v":1.05},{"m":"miR-151a-3p","c":"sEV","v":-1.0},{"m":"miR-151a-3p","c":"NV","v":-0.3},{"m":"miR-25-3p","c":"Cell","v":1.05},{"m":"miR-25-3p","c":"sEV","v":-1.0},{"m":"miR-25-3p","c":"NV","v":-0.33},{"m":"let-7i-5p","c":"Cell","v":1.1},{"m":"let-7i-5p","c":"sEV","v":-0.95},{"m":"let-7i-5p","c":"NV","v":-0.5},{"m":"miR-21-5p","c":"Cell","v":-0.85},{"m":"miR-21-5p","c":"sEV","v":1.15},{"m":"miR-21-5p","c":"NV","v":-0.5},{"m":"miR-221-3p","c":"Cell","v":1.15},{"m":"miR-221-3p","c":"sEV","v":-0.75},{"m":"miR-221-3p","c":"NV","v":-0.65},{"m":"let-7a-5p","c":"Cell","v":1.15},{"m":"let-7a-5p","c":"sEV","v":-0.8},{"m":"let-7a-5p","c":"NV","v":-0.68},{"m":"miR-7-5p","c":"Cell","v":1.15},{"m":"miR-7-5p","c":"sEV","v":-0.72},{"m":"miR-7-5p","c":"NV","v":-0.72},{"m":"miR-4443","c":"Cell","v":-0.68},{"m":"miR-4443","c":"sEV","v":1.15},{"m":"miR-4443","c":"NV","v":-0.72},{"m":"miR-365a-5p","c":"Cell","v":-0.7},{"m":"miR-365a-5p","c":"sEV","v":1.15},{"m":"miR-365a-5p","c":"NV","v":-0.72},{"m":"miR-3529-3p","c":"Cell","v":1.15},{"m":"miR-3529-3p","c":"sEV","v":-0.72},{"m":"miR-3529-3p","c":"NV","v":-0.78},{"m":"miR-93-5p","c":"Cell","v":1.15},{"m":"miR-93-5p","c":"sEV","v":-0.55},{"m":"miR-93-5p","c":"NV","v":-0.85},{"m":"miR-744-5p","c":"Cell","v":-0.55},{"m":"miR-744-5p","c":"sEV","v":1.15},{"m":"miR-744-5p","c":"NV","v":-0.9},{"m":"miR-30c-5p","c":"Cell","v":1.15},{"m":"miR-30c-5p","c":"sEV","v":-0.45},{"m":"miR-30c-5p","c":"NV","v":-0.95},{"m":"miR-1307-3p","c":"Cell","v":-0.3},{"m":"miR-1307-3p","c":"sEV","v":1.08},{"m":"miR-1307-3p","c":"NV","v":-1.0},{"m":"let-7b-5p","c":"Cell","v":-0.3},{"m":"let-7b-5p","c":"sEV","v":1.08},{"m":"let-7b-5p","c":"NV","v":-1.0}]
},
"bounds":"flush","spacing":164,"resolve":{"scale":{"color":"independent"},"legend":{"color":"independent"}},
"vconcat":[
{"hconcat":[
{"width":222.4,"height":128,
"encoding":{"x":{"field":"x","type":"quantitative","scale":{"domain":[87.9,755.1],"nice":false,"zero":false},"axis":null},"y":{"field":"y","type":"quantitative","scale":{"domain":[432,48],"nice":false,"zero":false},"axis":null}},
"layer":[
{"data":{"values":[{"i":0,"x":457.4,"y":517.7},{"i":1,"x":394.1,"y":546.2},{"i":2,"x":301.6,"y":528.3},{"i":3,"x":204.6,"y":468.8},{"i":4,"x":129.2,"y":383.7},{"i":5,"x":95.5,"y":295.6},{"i":6,"x":112.6,"y":228.3},{"i":7,"x":175.9,"y":199.8},{"i":8,"x":268.4,"y":217.7},{"i":9,"x":365.4,"y":277.2},{"i":10,"x":440.8,"y":362.3},{"i":11,"x":474.5,"y":450.4}]},"mark":{"type":"line","interpolate":"cardinal-closed","fill":"#cfcfcf","stroke":"#333","strokeWidth":1,"blend":"multiply"},"encoding":{"order":{"field":"i"}}},
{"data":{"values":[{"i":0,"x":277.6,"y":517.7},{"i":1,"x":340.9,"y":546.2},{"i":2,"x":433.4,"y":528.3},{"i":3,"x":530.4,"y":468.8},{"i":4,"x":605.8,"y":383.7},{"i":5,"x":639.5,"y":295.6},{"i":6,"x":622.4,"y":228.3},{"i":7,"x":559.1,"y":199.8},{"i":8,"x":466.6,"y":217.7},{"i":9,"x":369.6,"y":277.2},{"i":10,"x":294.2,"y":362.3},{"i":11,"x":260.5,"y":450.4}]},"mark":{"type":"line","interpolate":"cardinal-closed","fill":"#d5ff85","stroke":"#333","strokeWidth":1,"blend":"multiply"},"encoding":{"order":{"field":"i"}}},
{"data":{"values":[{"i":0,"x":539.4,"y":410.7},{"i":1,"x":476.1,"y":439.2},{"i":2,"x":383.6,"y":421.3},{"i":3,"x":286.6,"y":361.8},{"i":4,"x":211.2,"y":276.7},{"i":5,"x":177.5,"y":188.6},{"i":6,"x":194.6,"y":121.3},{"i":7,"x":257.9,"y":92.8},{"i":8,"x":350.4,"y":110.7},{"i":9,"x":447.4,"y":170.2},{"i":10,"x":522.8,"y":255.3},{"i":11,"x":556.5,"y":343.4}]},"mark":{"type":"line","interpolate":"cardinal-closed","fill":"#c5c5ff","stroke":"#333","strokeWidth":1,"blend":"multiply"},"encoding":{"order":{"field":"i"}}},
{"data":{"values":[{"i":0,"x":195.6,"y":410.7},{"i":1,"x":258.9,"y":439.2},{"i":2,"x":351.4,"y":421.3},{"i":3,"x":448.4,"y":361.8},{"i":4,"x":523.8,"y":276.7},{"i":5,"x":557.5,"y":188.6},{"i":6,"x":540.4,"y":121.3},{"i":7,"x":477.1,"y":92.8},{"i":8,"x":384.6,"y":110.7},{"i":9,"x":287.6,"y":170.2},{"i":10,"x":212.2,"y":255.3},{"i":11,"x":178.5,"y":343.4}]},"mark":{"type":"line","interpolate":"cardinal-closed","fill":"#ecbcbc","stroke":"#333","strokeWidth":1,"blend":"multiply"},"encoding":{"order":{"field":"i"}}},
{"data":{"values":[{"t":"11","x":248,"y":145},{"t":"1","x":485,"y":145},{"t":"5","x":368,"y":185},{"t":"25","x":202,"y":222},{"t":"15","x":530,"y":222},{"t":"125","x":133,"y":297},{"t":"45","x":266,"y":283},{"t":"122","x":460,"y":283},{"t":"0","x":595,"y":297},{"t":"91","x":217,"y":375},{"t":"1978","x":368,"y":362},{"t":"81","x":509,"y":375},{"t":"226","x":295,"y":423},{"t":"309","x":437,"y":423},{"t":"115","x":358,"y":501}]},"mark":{"type":"text","fontSize":8,"fontWeight":"bold","color":"#111"},"encoding":{"text":{"field":"t"}}},
{"data":{"values":[{"t":"Small EV","x":135,"y":42},{"t":"(Low density)","x":135,"y":77}]},"mark":{"type":"text","fontSize":9.5,"fontWeight":"bold","color":"#4f4fb8"},"encoding":{"text":{"field":"t"}}},
{"data":{"values":[{"t":"Non-vesicular","x":590,"y":42},{"t":"(High density)","x":590,"y":77}]},"mark":{"type":"text","fontSize":9.5,"fontWeight":"bold","color":"#e04a4a"},"encoding":{"text":{"field":"t"}}},
{"data":{"values":[{"t":"Large EV","x":665,"y":457}]},"mark":{"type":"text","fontSize":9.5,"fontWeight":"bold","color":"#6bbf6b"},"encoding":{"text":{"field":"t"}}},
{"data":{"values":[{"t":"Cell","x":48,"y":307}]},"mark":{"type":"text","fontSize":9.5,"color":"#555"},"encoding":{"text":{"field":"t"}}},
{"data":{"values":[{"t":"DKO-1","x":360,"y":37}]},"mark":{"type":"text","fontSize":11.5,"fontWeight":"bold","color":"#111"},"encoding":{"text":{"field":"t"}}},
{"data":{"values":[{"t":"A","x":19,"y":27},{"t":"B","x":852,"y":27}]},"mark":{"type":"text","fontSize":14,"fontWeight":"bold","color":"#000"},"encoding":{"text":{"field":"t"}}}
]},
{"width":161,"height":128,"title":{"text":"DKO-1","fontSize":12,"offset":2},"view":{"fill":"#e5e5e5","stroke":"#808080","strokeWidth":1},
"encoding":{"x":{"field":"x","type":"quantitative","scale":{"domain":[-82.6,67],"nice":false,"zero":false},"axis":{"title":"PC1 (49.9%)","values":[-60,-30,0,30,60],"grid":true,"gridWidth":1}},"y":{"field":"y","type":"quantitative","scale":{"domain":[-64.7,55.3],"nice":false,"zero":false},"axis":{"title":"PC2 (28.7%)","values":[-50,-25,0,25,50],"grid":true,"gridWidth":1}}},
"layer":[
{"data":{"values":[{"x":-75},{"x":-45},{"x":-15},{"x":15},{"x":45}]},"mark":{"type":"rule","color":"white","strokeWidth":0.5},"encoding":{"y":null}},
{"data":{"values":[{"y":37.5},{"y":12.5},{"y":-12.5},{"y":-37.5},{"y":-62.5}]},"mark":{"type":"rule","color":"white","strokeWidth":0.5},"encoding":{"x":null}},
{"data":{"values":[{"s":"Cell","x":-68.5,"y":16.6},{"s":"Cell","x":-66,"y":16.3},{"s":"Cell","x":-58.3,"y":12.5},{"s":"Cell","x":-57.7,"y":11},{"s":"lEV (large EV)","x":16.7,"y":18.1},{"s":"lEV (large EV)","x":18,"y":14},{"s":"lEV (large EV)","x":17.7,"y":14.7},{"s":"lEV (large EV)","x":18.6,"y":10},{"s":"sEV(small EV)","x":43.4,"y":25},{"s":"sEV(small EV)","x":40.6,"y":20.3},{"s":"sEV(small EV)","x":37.8,"y":13.4},{"s":"sEV(small EV)","x":37.2,"y":12.5},{"s":"NV (non-vesicular)","x":2.1,"y":-47},{"s":"NV (non-vesicular)","x":5.2,"y":-46},{"s":"NV (non-vesicular)","x":4,"y":-47.5},{"s":"NV (non-vesicular)","x":6.8,"y":-46.9}]},"mark":{"type":"circle","opacity":1,"size":64,"stroke":"#333","strokeWidth":0.6},
"encoding":{"color":{"field":"s","type":"nominal","scale":{"domain":["Cell","lEV (large EV)","sEV(small EV)","NV (non-vesicular)"],"range":["#d9645a","#53aeb5","#a855f7","#7ba40c"]},"legend":null}}},
{"data":{"values":[{"t":"Cell","x":-68.3,"y":2.2},{"t":"lEV","x":1.5,"y":14},{"t":"sEV","x":54.9,"y":15.3},{"t":"NV","x":18,"y":-44}]},"mark":{"type":"text","fontSize":9.5,"color":"#222"},"encoding":{"text":{"field":"t"}}}
]},
{"width":160.4,"height":128,"title":{"text":"Gli36","fontSize":12,"offset":2},"view":{"fill":"#e5e5e5","stroke":"#808080","strokeWidth":1},
"encoding":{"x":{"field":"x","type":"quantitative","scale":{"domain":[-60.9,60.6],"nice":false,"zero":false},"axis":{"title":"PC1 (98.2%)","values":[-50,-25,0,25,50],"grid":true,"gridWidth":1}},"y":{"field":"y","type":"quantitative","scale":{"domain":[-38.6,38.4],"nice":false,"zero":false},"axis":{"title":"PC2 (0.3%)","values":[-30,-20,-10,0,10,20,30],"grid":true,"gridWidth":1}}},
"layer":[
{"data":{"values":[{"x":-37.5},{"x":-12.5},{"x":12.5},{"x":37.5}]},"mark":{"type":"rule","color":"white","strokeWidth":0.5},"encoding":{"y":null}},
{"data":{"values":[{"y":35},{"y":25},{"y":15},{"y":5},{"y":-5},{"y":-15},{"y":-25},{"y":-35}]},"mark":{"type":"rule","color":"white","strokeWidth":0.5},"encoding":{"x":null}},
{"data":{"values":[{"s":"sEV(small EV)","x":-35.6,"y":1.4},{"s":"sEV(small EV)","x":-32.1,"y":0.6},{"s":"sEV(small EV)","x":-36.1,"y":0.8},{"s":"sEV(small EV)","x":-34.9,"y":-1.6},{"s":"sEV(small EV)","x":-34.4,"y":-3.2},{"s":"NV (non-vesicular)","x":30.8,"y":11},{"s":"NV (non-vesicular)","x":35.1,"y":9.4},{"s":"NV (non-vesicular)","x":33.6,"y":5.4},{"s":"NV (non-vesicular)","x":35.3,"y":1.8},{"s":"NV (non-vesicular)","x":34.1,"y":-11.4},{"s":"NV (non-vesicular)","x":33.6,"y":-17.2}]},"mark":{"type":"circle","opacity":1,"size":64,"stroke":"#333","strokeWidth":0.6},
"encoding":{"color":{"field":"s","type":"nominal","title":"Sample","scale":{"domain":["Cell","lEV (large EV)","sEV(small EV)","NV (non-vesicular)"],"range":["#d9645a","#53aeb5","#a855f7","#7ba40c"]},"legend":{"orient":"none","legendX":170,"legendY":29,"symbolType":"circle","symbolSize":64,"symbolStrokeColor":"#333","symbolStrokeWidth":0.6,"symbolOpacity":1,"labelFontSize":9.5,"titleFontSize":9.5,"rowPadding":3.4,"titlePadding":4}}}},
{"data":{"values":[{"t":"sEV","x":-48,"y":0},{"t":"NV","x":42.1,"y":-4.8}]},"mark":{"type":"text","fontSize":9.5,"color":"#222"},"encoding":{"text":{"field":"t"}}}
]}
],"bounds":"flush","spacing":52.3,"resolve":{"scale":{"color":"independent"},"legend":{"color":"independent"}}},
{"hconcat":[
{"vconcat":[
{"hconcat":[
{"vconcat":[
{"width":163.4,"height":138,
"encoding":{"x":{"field":"x","type":"quantitative","scale":{"domain":[-12,12],"range":[-9.1,168.5],"nice":false,"zero":false},"axis":{"title":"Log₂ (fold-change Low/High)","titleFontSize":9,"titleColor":"#333","labelFontSize":8,"values":[-10.2,-8,-6,-4,-2,0,2,4,6,8,9.95],"labelExpr":"datum.value<-9?'−∞':datum.value>9?'∞':datum.label","titlePadding":2}},"y":{"field":"y","type":"quantitative","scale":{"domain":[-0.84,23.8],"nice":false,"zero":false},"axis":{"title":null,"values":[0,2,4,6,8,10,12],"offset":-79.7,"labelFontSize":7,"tickSize":1.5,"labelPadding":1}}},
"layer":[
{"data":{"values":[{"x":-11.5,"b":-9.3,"y":-0.84},{"x":-8.65,"b":8.9,"y":-0.84},{"x":9.15,"b":11.3,"y":-0.84}]},"mark":{"type":"rule","color":"#777","strokeWidth":1},"encoding":{"x2":{"field":"b"}}},
{"data":{"values":[{"x":0,"y":0,"y2":13.8}]},"mark":{"type":"rule","color":"#999","strokeWidth":1},"encoding":{"y2":{"field":"y2"}}},
{"data":{"name":"vb"},"mark":{"type":"square","size":4.5,"opacity":1,"color":"#111"}},
{"data":{"name":"vg"},"mark":{"type":"square","size":4.5,"opacity":1,"color":"#cf9f2e"}},
{"data":{"values":[{"x":-10.2,"y":3.3,"y2":10.6}]},"mark":{"type":"rule","color":"#111","strokeWidth":1.3},"encoding":{"y2":{"field":"y2"}}},
{"data":{"values":[{"x":9.95,"y":2.7,"y2":11.6}]},"mark":{"type":"rule","color":"#444","strokeWidth":1.6},"encoding":{"y2":{"field":"y2"}}},
{"data":{"values":[{"x":-11.3,"x2":11.4,"y":1.18}]},"mark":{"type":"rule","color":"#888","strokeWidth":1,"strokeDash":[3,2]},"encoding":{"x2":{"field":"x2"}}},
{"data":{"values":[{"t":"p < 0.05","x":8.24,"y":2.2}]},"mark":{"type":"text","fontSize":8,"color":"#333"},"encoding":{"text":{"field":"t"}}},
{"data":{"values":[{"t":"−log₁₀ (p-value)","x":-12.3,"y":7.7}]},"mark":{"type":"text","fontSize":9,"angle":270,"color":"#333"},"encoding":{"text":{"field":"t"}}},
{"data":{"values":[{"t":"Small EV","x":-6.4,"y":17},{"t":"(Low density)","x":-7.07,"y":15.2}]},"mark":{"type":"text","fontSize":8.6,"fontWeight":"bold","color":"#6a6fc0"},"encoding":{"text":{"field":"t"}}},
{"data":{"values":[{"t":"Non-vesicular","x":7.03,"y":17},{"t":"(High density)","x":6.9,"y":15.2}]},"mark":{"type":"text","fontSize":8.6,"fontWeight":"bold","color":"#e0404a"},"encoding":{"text":{"field":"t"}}},
{"data":{"values":[{"t":"DKO-1","x":-0.14,"y":18.45}]},"mark":{"type":"text","fontSize":11,"fontWeight":"bold","color":"#111"},"encoding":{"text":{"field":"t"}}},
{"data":{"values":[{"t":"C","x":-13.9,"y":21.8},{"t":"G","x":-13.9,"y":-45.66},{"t":"H","x":-13.9,"y":-87}]},"mark":{"type":"text","fontSize":14,"fontWeight":"bold","color":"#000"},"encoding":{"text":{"field":"t"}}}
]},
{"width":170,"height":165,
"resolve":{"scale":{"x":"independent"}},
"layer":[
{"layer":[
{"data":{"values":[{"r":"Protein"},{"r":"Syntenin-1"},{"r":"Flotillin-1"},{"r":"RAB7"},{"r":"RPS3"}]},"mark":{"type":"rect","fill":"#ece5d8"},"encoding":{"x":{"datum":0,"type":"quantitative","scale":{"domain":[0,1],"range":[-11,170]},"axis":null},"x2":{"datum":1},"y":{"field":"r","type":"nominal","scale":{"domain":["title","Protein","TSG101","Syntenin-1","CD81","Flotillin-1","ALIX","RAB7","Histone H2A","RPS3","Fibronectin"],"paddingInner":0,"paddingOuter":0},"axis":null}}},
{"data":{"values":[{"r":"a"}]},"mark":{"type":"rule","color":"#aaa","strokeWidth":1.5},"encoding":{"x":{"datum":0,"type":"quantitative","axis":null},"x2":{"datum":1},"y":{"datum":"title","type":"nominal","bandPosition":0,"axis":null}}},
{"data":{"values":[{"r":"a"}]},"mark":{"type":"rule","color":"#999","strokeWidth":1},"encoding":{"x":{"datum":0,"type":"quantitative","axis":null},"x2":{"datum":1},"y":{"datum":"Protein","type":"nominal","bandPosition":0,"axis":null}}},
{"data":{"values":[{"r":"a"}]},"mark":{"type":"rule","color":"#aaa","strokeWidth":1.5},"encoding":{"x":{"datum":0,"type":"quantitative","axis":null},"x2":{"datum":1},"y":{"datum":"Fibronectin","type":"nominal","bandPosition":1,"axis":null}}}
]},
{"encoding":{"x":{"field":"c","type":"nominal","scale":{"type":"point","domain":["P","g1","g2","D","g3","F"],"range":[-0.3,144.7],"padding":0},"axis":null},"y":{"field":"r","type":"nominal","axis":null},"text":{"field":"t"}},
"layer":[
{"data":{"values":[{"r":"Protein","c":"P","t":"Protein"}]},"mark":{"type":"text","align":"left","fontSize":8.5,"fontWeight":"bold","color":"#222"}},
{"data":{"values":[{"r":"Protein","c":"D","t":"sEV vs NV"},{"r":"Protein","c":"F","t":"Fold"}]},"mark":{"type":"text","fontSize":8.5,"fontWeight":"bold","color":"#222"}},
{"data":{"values":[{"r":"title","c":"D","t":"DKO-1 spectal counts"}]},"mark":{"type":"text","fontSize":8.5,"fontWeight":"bold","color":"#222","dx":-14}},
{"data":{"values":[{"r":"title","c":"P","t":"D"}]},"mark":{"type":"text","fontSize":14,"fontWeight":"bold","color":"#000","dx":-23,"dy":-18}},
{"data":{"values":[{"r":"TSG101","c":"P","t":"TSG101"},{"r":"Syntenin-1","c":"P","t":"Syntenin-1"},{"r":"CD81","c":"P","t":"CD81"},{"r":"Flotillin-1","c":"P","t":"Flotillin-1"},{"r":"ALIX","c":"P","t":"ALIX"},{"r":"RAB7","c":"P","t":"RAB7"},{"r":"Histone H2A","c":"P","t":"Histone H2A"},{"r":"RPS3","c":"P","t":"RPS3"},{"r":"Fibronectin","c":"P","t":"Fibronectin"}]},"mark":{"type":"text","align":"left","fontSize":8.5,"color":"#333"}},
{"data":{"values":[{"r":"TSG101","c":"F","t":"10.1"},{"r":"Syntenin-1","c":"F","t":"7.5"},{"r":"CD81","c":"F","t":"7.9"},{"r":"Flotillin-1","c":"F","t":"188.0"},{"r":"ALIX","c":"F","t":"10.7"},{"r":"RAB7","c":"F","t":"2.2"},{"r":"Histone H2A","c":"F","t":"6.0"},{"r":"RPS3","c":"F","t":"5.1"},{"r":"Fibronectin","c":"F","t":"109.0"}]},"mark":{"type":"text","fontSize":8.5,"color":"#333"}},
{"data":{"values":[{"r":"TSG101","c":"D","t":"↑"},{"r":"Syntenin-1","c":"D","t":"↑"},{"r":"CD81","c":"D","t":"↑"},{"r":"Flotillin-1","c":"D","t":"↑"},{"r":"ALIX","c":"D","t":"↑"},{"r":"RAB7","c":"D","t":"↑"},{"r":"Histone H2A","c":"D","t":"↓"},{"r":"RPS3","c":"D","t":"↓"},{"r":"Fibronectin","c":"D","t":"↓"}]},"mark":{"type":"text","fontSize":10.5,"color":"#222"}}
]}
]}
],"bounds":"flush","spacing":50.7,"resolve":{"scale":{"color":"independent"},"legend":{"color":"independent"}}},
{"width":170,"height":370,
"encoding":{"x":{"field":"x","type":"quantitative","scale":{"domain":[0,510],"nice":false,"zero":false},"axis":null},"y":{"field":"y","type":"quantitative","scale":{"domain":[1110,0],"nice":false,"zero":false},"axis":null}},
"layer":[
{"data":{"values":[{"k":"bgR","x":110,"x2":335,"y":140,"y2":220},{"k":"bgG","x":110,"x2":335,"y":230,"y2":332},{"k":"bgR","x":110,"x2":335,"y":343,"y2":450},{"k":"bgR","x":110,"x2":335,"y":460,"y2":540},{"k":"bgR","x":110,"x2":335,"y":552,"y2":655},{"k":"bgG","x":110,"x2":335,"y":665,"y2":765},{"k":"bgG","x":110,"x2":335,"y":775,"y2":858},{"k":"bgG","x":110,"x2":335,"y":868,"y2":968},{"k":"bgG","x":110,"x2":335,"y":978,"y2":1070}]},"mark":{"type":"rect"},"encoding":{"x2":{"field":"x2"},"y2":{"field":"y2"},"color":{"field":"k","type":"nominal","legend":null,"scale":{"domain":["bgR","bgG"],"range":["#130404","#051005"]}}}},
{"data":{"values":[{"k":"glowR","x":133,"x2":219,"y":150,"y2":205},{"k":"coreR","x":135,"x2":217,"y":165,"y2":195},{"k":"faintR","x":225,"x2":290,"y":178,"y2":188},
{"k":"glowG","x":146,"x2":220,"y":258,"y2":302},{"k":"coreG","x":148,"x2":218,"y":268,"y2":298},{"k":"faintG","x":225,"x2":290,"y":280,"y2":290},
{"k":"glowR","x":125,"x2":225,"y":345,"y2":445},{"k":"coreR","x":137,"x2":218,"y":385,"y2":420},{"k":"faintR","x":225,"x2":285,"y":392,"y2":412},
{"k":"glowR","x":141,"x2":217,"y":484,"y2":522},{"k":"coreR","x":143,"x2":215,"y":492,"y2":515},
{"k":"glowR","x":141,"x2":219,"y":576,"y2":614},{"k":"coreR","x":143,"x2":217,"y":585,"y2":608},{"k":"midR","x":150,"x2":210,"y":625,"y2":633},{"k":"faintR","x":225,"x2":285,"y":592,"y2":600},
{"k":"glowG","x":146,"x2":219,"y":695,"y2":735},{"k":"coreG","x":148,"x2":217,"y":708,"y2":730},{"k":"faintG","x":222,"x2":288,"y":715,"y2":728},
{"k":"glowG","x":230,"x2":297,"y":795,"y2":835},{"k":"coreG","x":232,"x2":295,"y":803,"y2":828},
{"k":"faintG","x":145,"x2":210,"y":908,"y2":922},{"k":"glowG","x":220,"x2":295,"y":898,"y2":938},{"k":"coreG","x":222,"x2":293,"y":906,"y2":930},
{"k":"glowG","x":226,"x2":293,"y":980,"y2":1040},{"k":"coreG","x":226,"x2":293,"y":1014,"y2":1032}]},
"mark":{"type":"rect","cornerRadius":3.5},"encoding":{"x2":{"field":"x2"},"y2":{"field":"y2"},"color":{"field":"k","type":"nominal","legend":null,"scale":{"domain":["glowR","coreR","midR","faintR","glowG","coreG","faintG"],"range":["#5a0b0b","#f51414","#c4161a","#3c0909","#1f6a0e","#5cf01c","#12420a"]}}}},
{"data":{"values":[{"y":178},{"y":268},{"y":310},{"y":374},{"y":503},{"y":575},{"y":625},{"y":713},{"y":838},{"y":897},{"y":940},{"y":1042}]},"mark":{"type":"rule","color":"#666","strokeWidth":0.8},"encoding":{"x":{"datum":90,"type":"quantitative"},"x2":{"datum":110}}},
{"data":{"values":[{"t":"50","x":86,"y":178},{"t":"38","x":86,"y":268},{"t":"30","x":86,"y":310},{"t":"25","x":86,"y":374},{"t":"50","x":86,"y":503},{"t":"125","x":86,"y":575},{"t":"90","x":86,"y":625},{"t":"25","x":86,"y":713},{"t":"15","x":86,"y":838},{"t":"38","x":86,"y":897},{"t":"30","x":86,"y":940},{"t":"260","x":86,"y":1042}]},"mark":{"type":"text","align":"right","fontSize":8.5,"color":"#333"},"encoding":{"text":{"field":"t"}}},
{"data":{"values":[{"t":"TSG101","x":345,"y":185},{"t":"Syntenin-1","x":345,"y":283},{"t":"CD81","x":345,"y":402},{"t":"Flotillin-1","x":345,"y":503},{"t":"ALIX","x":345,"y":600},{"t":"RAB7","x":345,"y":723},{"t":"Histone H2A","x":345,"y":820},{"t":"RPS3","x":345,"y":918},{"t":"Fibronectin","x":345,"y":1025}]},"mark":{"type":"text","align":"left","fontSize":8.5,"color":"#333"},"encoding":{"text":{"field":"t"}}},
{"data":{"values":[{"t":"sEV","x":180,"y":115},{"t":"NV","x":272,"y":115}]},"mark":{"type":"text","fontSize":9.5,"color":"#222"},"encoding":{"text":{"field":"t"}}},
{"data":{"values":[{"t":"Mᵣ (K)","x":58,"y":118}]},"mark":{"type":"text","fontSize":8,"fontStyle":"italic","color":"#333"},"encoding":{"text":{"field":"t"}}},
{"data":{"values":[{"t":"DKO-1","x":220,"y":57}]},"mark":{"type":"text","fontSize":11,"fontWeight":"bold","color":"#111"},"encoding":{"text":{"field":"t"}}},
{"data":{"values":[{"t":"E","x":8,"y":38}]},"mark":{"type":"text","fontSize":14,"fontWeight":"bold","color":"#000"},"encoding":{"text":{"field":"t"}}}
],"resolve":{"scale":{"color":"independent"}}}
],"bounds":"flush","spacing":185.7,"resolve":{"scale":{"color":"independent"},"legend":{"color":"independent"}}},
{"vconcat":[
{"hconcat":[
{"width":149.9,"height":182,"title":{"text":"DKO-1","fontSize":10.7,"offset":-2.4,"anchor":"middle","dx":8},
"data":{"values":[{"s":"Cell","t":"miRNA","v":0.833,"k":1},{"s":"Cell","t":"piRNA","v":0.017,"k":2},{"s":"Cell","t":"tRNA","v":0.02,"k":3},{"s":"Cell","t":"snoRNA","v":0.063,"k":4},{"s":"Cell","t":"snRNA","v":0.008,"k":5},{"s":"Cell","t":"VTRNA","v":0.001,"k":6},{"s":"Cell","t":"rRNA","v":0.047,"k":7},{"s":"Cell","t":"YRNA","v":0.011,"k":8},{"s":"lEV","t":"miRNA","v":0.447,"k":1},{"s":"lEV","t":"piRNA","v":0.069,"k":2},{"s":"lEV","t":"tRNA","v":0.055,"k":3},{"s":"lEV","t":"snoRNA","v":0.004,"k":4},{"s":"lEV","t":"snRNA","v":0.007,"k":5},{"s":"lEV","t":"VTRNA","v":0.002,"k":6},{"s":"lEV","t":"rRNA","v":0.26,"k":7},{"s":"lEV","t":"YRNA","v":0.156,"k":8},{"s":"sEV","t":"miRNA","v":0.597,"k":1},{"s":"sEV","t":"piRNA","v":0.073,"k":2},{"s":"sEV","t":"tRNA","v":0.048,"k":3},{"s":"sEV","t":"snoRNA","v":0.004,"k":4},{"s":"sEV","t":"snRNA","v":0.005,"k":5},{"s":"sEV","t":"VTRNA","v":0.002,"k":6},{"s":"sEV","t":"rRNA","v":0.135,"k":7},{"s":"sEV","t":"YRNA","v":0.136,"k":8},{"s":"NV","t":"miRNA","v":0.436,"k":1},{"s":"NV","t":"piRNA","v":0.018,"k":2},{"s":"NV","t":"tRNA","v":0.011,"k":3},{"s":"NV","t":"snoRNA","v":0.006,"k":4},{"s":"NV","t":"snRNA","v":0.016,"k":5},{"s":"NV","t":"VTRNA","v":0.323,"k":6},{"s":"NV","t":"rRNA","v":0.021,"k":7},{"s":"NV","t":"YRNA","v":0.169,"k":8}]},"mark":{"type":"bar"},
"encoding":{"x":{"field":"s","type":"nominal","sort":null,"scale":{"domain":["Cell","lEV","sEV","NV"],"range":[19.1,149.8],"paddingInner":0.1,"paddingOuter":0.05},"axis":{"title":null,"labelAngle":0,"labelFontSize":10.5,"ticks":false,"labelPadding":3,"labelColor":"#222"}},"y":{"field":"v","type":"quantitative","stack":"zero","scale":{"domain":[0,1],"nice":false},"axis":{"title":"Percentage","titleFontSize":10,"values":[0,0.25,0.5,0.75,1],"format":".2f","labelFontSize":9,"offset":-16.7,"domain":true,"domainColor":"#666","domainWidth":1.2,"labelColor":"#333","tickSize":2}},"order":{"field":"k"},"color":{"field":"t","type":"nominal","legend":null,"scale":{"domain":["YRNA","rRNA","VTRNA","snRNA","snoRNA","tRNA","piRNA","miRNA"],"range":["#5254ff","#5fb59a","#8c5595","#d68c72","#3a6b68","#bf7f2c","#6595d0","#a83a28"]}}}},
{"width":98,"height":182,"title":{"text":"Gli36","fontSize":10.7,"offset":-2.4},
"data":{"values":[{"s":"Cell","t":"miRNA","v":0.775,"k":1},{"s":"Cell","t":"piRNA","v":0.025,"k":2},{"s":"Cell","t":"tRNA","v":0.031,"k":3},{"s":"Cell","t":"snoRNA","v":0.065,"k":4},{"s":"Cell","t":"snRNA","v":0.005,"k":5},{"s":"Cell","t":"VTRNA","v":0.002,"k":6},{"s":"Cell","t":"rRNA","v":0.079,"k":7},{"s":"Cell","t":"YRNA","v":0.018,"k":8},{"s":"sEV","t":"miRNA","v":0.075,"k":1},{"s":"sEV","t":"piRNA","v":0.275,"k":2},{"s":"sEV","t":"tRNA","v":0.377,"k":3},{"s":"sEV","t":"snoRNA","v":0.002,"k":4},{"s":"sEV","t":"snRNA","v":0.009,"k":5},{"s":"sEV","t":"VTRNA","v":0.121,"k":6},{"s":"sEV","t":"rRNA","v":0.114,"k":7},{"s":"sEV","t":"YRNA","v":0.027,"k":8},{"s":"NV","t":"miRNA","v":0.22,"k":1},{"s":"NV","t":"piRNA","v":0.177,"k":2},{"s":"NV","t":"tRNA","v":0.165,"k":3},{"s":"NV","t":"snoRNA","v":0.004,"k":4},{"s":"NV","t":"snRNA","v":0.007,"k":5},{"s":"NV","t":"VTRNA","v":0.271,"k":6},{"s":"NV","t":"rRNA","v":0.064,"k":7},{"s":"NV","t":"YRNA","v":0.092,"k":8}]},"mark":{"type":"bar"},
"encoding":{"x":{"field":"s","type":"nominal","sort":null,"scale":{"domain":["Cell","sEV","NV"],"paddingInner":0.1,"paddingOuter":0.05},"axis":{"title":null,"labelAngle":0,"labelFontSize":10.5,"ticks":false,"labelPadding":3,"labelColor":"#222"}},"y":{"field":"v","type":"quantitative","stack":"zero","scale":{"domain":[0,1],"nice":false},"axis":{"title":null,"values":[0,0.25,0.5,0.75,1],"format":".2f","labelFontSize":9,"offset":3,"domain":true,"domainColor":"#666","domainWidth":1.2,"labelColor":"#333","tickSize":2}},"order":{"field":"k"},"color":{"field":"t","type":"nominal","title":"Transcripts","scale":{"domain":["YRNA","rRNA","VTRNA","snRNA","snoRNA","tRNA","piRNA","miRNA"],"range":["#5254ff","#5fb59a","#8c5595","#d68c72","#3a6b68","#bf7f2c","#6595d0","#a83a28"]},"legend":{"orient":"none","legendX":110.4,"legendY":32,"symbolType":"square","symbolSize":121,"symbolStrokeWidth":0,"symbolOpacity":1,"labelFontSize":8.5,"titleFontSize":8.5,"rowPadding":0.75,"titlePadding":6,"labelOffset":2}}}}
],"bounds":"flush","spacing":42.1,"resolve":{"scale":{"color":"independent"},"legend":{"color":"independent"}}},
{"hconcat":[
{"width":163.4,"height":129.3,"title":{"text":"DKO-1","fontSize":10,"offset":5},"view":{"fill":"#e5e5e5","stroke":"#666","strokeWidth":1},
"encoding":{"x":{"field":"x","type":"quantitative","scale":{"domain":[-43.8,33.6],"nice":false,"zero":false},"axis":{"title":"PC1 (80.8%)","values":[-40,-30,-20,-10,0,10,20,30],"grid":true,"gridWidth":1,"labelFontSize":6.5,"titlePadding":3}},"y":{"field":"y","type":"quantitative","scale":{"domain":[-33.4,43.3],"nice":false,"zero":false},"axis":{"title":"PC2 (12.2%)","values":[-30,-20,-10,0,10,20,30,40],"grid":true,"gridWidth":1,"labelFontSize":6.5}}},
"layer":[
{"data":{"values":[{"s":"Cell","x":-32.7,"y":-0.4},{"s":"Cell","x":-30.6,"y":-1.2},{"s":"Cell","x":-27.6,"y":-1.4},{"s":"Cell","x":-25,"y":-4},{"s":"NV","x":19.4,"y":27.7},{"s":"NV","x":14.8,"y":21.3},{"s":"NV","x":8.8,"y":4.3},{"s":"NV","x":8.2,"y":2.2},{"s":"sEV","x":6.3,"y":-11.9},{"s":"sEV","x":5.8,"y":-13},{"s":"sEV","x":3.9,"y":-10.3},{"s":"sEV","x":2.7,"y":-15},{"s":"lEV","x":12.5,"y":-14.4},{"s":"lEV","x":12.3,"y":-15},{"s":"lEV","x":13.7,"y":-19},{"s":"lEV","x":12.2,"y":-17.8}]},"mark":{"type":"circle","opacity":1,"size":64,"stroke":"#333","strokeWidth":0.6},
"encoding":{"color":{"field":"s","type":"nominal","legend":null,"scale":{"domain":["Cell","lEV","sEV","NV"],"range":["#d9645a","#53aeb5","#a855f7","#7ba40c"]}}}},
{"data":{"values":[{"t":"Cell","x":-29.2,"y":5.7},{"t":"NV","x":10.6,"y":13},{"t":"sEV","x":-3.3,"y":-10.5},{"t":"lEV","x":19.7,"y":-14.6}]},"mark":{"type":"text","fontSize":8.5,"color":"#222"},"encoding":{"text":{"field":"t"}}}
]},
{"width":163.3,"height":129.3,"title":{"text":"Gli36","fontSize":10,"offset":5},"view":{"fill":"#e5e5e5","stroke":"#666","strokeWidth":1},
"encoding":{"x":{"field":"x","type":"quantitative","scale":{"domain":[-43.8,33.6],"nice":false,"zero":false},"axis":{"title":"PC1 (57.2%)","values":[-40,-30,-20,-10,0,10,20,30],"grid":true,"gridWidth":1,"labelFontSize":6.5,"titlePadding":3}},"y":{"field":"y","type":"quantitative","scale":{"domain":[-33.4,43.3],"nice":false,"zero":false},"axis":{"title":"PC2 (37.3%)","values":[-30,-20,-10,0,10,20,30,40],"grid":true,"gridWidth":1,"labelFontSize":6.5}}},
"layer":[
{"data":{"values":[{"s":"Cell","x":-28,"y":0.2},{"s":"Cell","x":-25.1,"y":0.8},{"s":"Cell","x":-22.6,"y":-0.2},{"s":"Cell","x":-20.5,"y":-0.2},{"s":"NV","x":11.7,"y":18.6},{"s":"NV","x":12.5,"y":17.8},{"s":"NV","x":13.4,"y":17},{"s":"NV","x":14.7,"y":17.2},{"s":"sEV","x":10.6,"y":-13},{"s":"sEV","x":11.4,"y":-16.6},{"s":"sEV","x":12.2,"y":-18.4},{"s":"sEV","x":15.2,"y":-22.7}]},"mark":{"type":"circle","opacity":1,"size":64,"stroke":"#333","strokeWidth":0.6},
"encoding":{"color":{"field":"s","type":"nominal","legend":null,"scale":{"domain":["Cell","lEV","sEV","NV"],"range":["#d9645a","#53aeb5","#a855f7","#7ba40c"]}}}},
{"data":{"values":[{"t":"Cell","x":-24.2,"y":6.9},{"t":"NV","x":14.8,"y":24.9},{"t":"sEV","x":20.5,"y":-15.2}]},"mark":{"type":"text","fontSize":8.5,"color":"#222"},"encoding":{"text":{"field":"t"}}}
]}
],"bounds":"flush","spacing":40,"resolve":{"scale":{"color":"independent"},"legend":{"color":"independent"}}}
],"bounds":"flush","spacing":232.4,"resolve":{"scale":{"color":"independent"},"legend":{"color":"independent"}}}
],"bounds":"flush","spacing":394.3,"resolve":{"scale":{"color":"independent"},"legend":{"color":"independent"}}},
{"vconcat":[
{"width":265,"height":259.3,
"layer":[
{"data":{"name":"fh"},"mark":{"type":"rect","stroke":"#7a6a7a","strokeWidth":0.5},"encoding":{
"x":{"field":"c","type":"nominal","sort":null,"scale":{"domain":["S1","S2","S3","S4","S5","S6","N1","N2","N3","N4","N5","N6"],"paddingInner":0,"paddingOuter":0},"axis":{"title":"Replicate","titleFontSize":7.5,"titleX":-21.3,"titleY":2,"titleAlign":"center","labelExpr":"slice(datum.label,1)","labelAngle":0,"ticks":false,"labelFontSize":8,"labelPadding":2,"labelColor":"#333"}},
"y":{"field":"p","type":"nominal","sort":null,"scale":{"domain":["GAPDH","PKM","HSP90 alpha","HSP90 beta","EEF2","FASN","VCP","PGK1","Clathrin","Albumin","CD9","CD81","CD63","Annexin A2","Annexin V","TSG101","Syntenin-1","ALIX","14-3-3 zeta/delta","14-3-3 epsilon","HSC70","EEF1A1","Aldolase A","Enolase 1","LADH"],"range":[12.3,259.3],"paddingInner":0,"paddingOuter":0},"axis":{"orient":"right","title":null,"ticks":false,"labelFontSize":8.5,"labelPadding":3,"labelColor":"#333"}},
"color":{"field":"v","type":"quantitative","scale":{"type":"linear","interpolate":"rgb","domain":[-1.52,-1,-0.5,0,1,2,2.68],"range":["#8a55ff","#ab8bff","#d4c4ff","#ffffff","#e9a88e","#d8603f","#cc1a14"]},"legend":{"orient":"none","legendX":-30,"legendY":108.3,"title":null,"direction":"vertical","gradientLength":62,"gradientThickness":13,"gradientStrokeWidth":0,"values":[-1,0,1,2],"format":"d","labelFontSize":8}}}},
{"data":{"values":[{"t":"Purified sEV"}]},"mark":{"type":"text","fontSize":11,"color":"#222","dy":-13},"encoding":{"text":{"field":"t"},"x":{"datum":"S3","type":"nominal","bandPosition":1},"y":{"datum":"GAPDH","type":"nominal"}}},
{"data":{"values":[{"t":"Non-vesicular (NV)"}]},"mark":{"type":"text","fontSize":11,"color":"#222","dy":-13},"encoding":{"text":{"field":"t"},"x":{"datum":"N3","type":"nominal","bandPosition":1},"y":{"datum":"GAPDH","type":"nominal"}}},
{"data":{"values":[{"t":"DKO-1"}]},"mark":{"type":"text","fontSize":11,"fontWeight":"bold","color":"#111","dx":-35.3,"dy":3},"encoding":{"text":{"field":"t"},"x":{"datum":"S1","type":"nominal"},"y":{"datum":"PKM","type":"nominal"}}},
{"data":{"values":[{"t":"F"}]},"mark":{"type":"text","fontSize":14,"fontWeight":"bold","color":"#000","dx":-57.6,"dy":-6},"encoding":{"text":{"field":"t"},"x":{"datum":"S1","type":"nominal"},"y":{"datum":"GAPDH","type":"nominal"}}},
{"data":{"values":[{"t":"Expression"}]},"mark":{"type":"text","fontSize":7.5,"color":"#333","dx":-34.3,"dy":3},"encoding":{"text":{"field":"t"},"x":{"datum":"S1","type":"nominal"},"y":{"datum":"Clathrin","type":"nominal"}}}
]},
{"hconcat":[
{"width":116,"height":472.3,
"layer":[
{"data":{"name":"i1"},"mark":{"type":"rect","stroke":"#777","strokeWidth":0.4},"encoding":{
"x":{"field":"c","type":"nominal","sort":null,"scale":{"domain":["Cell","lEV","sEV","NV"],"range":[20.7,116],"paddingInner":0,"paddingOuter":0},"axis":{"orient":"top","title":null,"labelAngle":0,"ticks":false,"labelFontSize":9,"labelPadding":2,"labelColor":"#222"}},
"y":{"field":"m","type":"nominal","sort":null,"scale":{"domain":["miR-92a-3p","miR-3184-5p","miR-423-3p","miR-3074-5p","miR-24-3p","miR-22-3p","miR-10a-3p","miR-101-3p","miR-181a-5p","miR-375","miR-192-5p","miR-29a-3p","miR-100-5p","miR-10a-5p","miR-10b-5p","miR-203b-5p","miR-203a","miR-27b-3p","miR-30d-5p","miR-182-5p","miR-221-3p","miR-429","miR-128","miR-27a-3p","miR-148a-3p","miR-99b-5p","miR-20a-5p","miR-200b-3p","miR-200a-3p","let-7g-5p","miR-125a-5p","miR-103b","miR-103a-3p","miR-183-5p","miR-25-3p","miR-222-3p","miR-151a-3p","miR-7-5p","miR-3529-3p","miR-320a","miR-26b-5p","miR-200a-5p","miR-191-5p","let-7a-5p","miR-26a-5p","let-7b-5p","miR-21-5p","let-7f-5p","let-7i-5p","miR-200c-3p"],"paddingInner":0,"paddingOuter":0},"axis":{"title":null,"offset":-20.7,"ticks":false,"labelFontSize":8.5,"labelFontStyle":"italic","labelPadding":2.5,"labelColor":"#555"}},
"color":{"field":"v","type":"quantitative","scale":{"type":"linear","interpolate":"rgb","domain":[-1.53,-1,-0.5,0,0.5,1,1.53],"range":["#2a00ff","#7a50ff","#c0a8ff","#ffffff","#e9b09a","#d8603f","#c81a14"]},"legend":{"orient":"none","legendX":120,"legendY":204.3,"title":null,"direction":"vertical","gradientLength":74.7,"gradientThickness":15,"gradientStrokeWidth":0,"values":[-1.5,-1,-0.5,0,0.5,1,1.5],"format":".1f","labelFontSize":8.5,"labelOverlap":false}}}},
{"data":{"values":[{"t":"DKO-1"}]},"mark":{"type":"text","fontSize":10.5,"fontWeight":"bold","color":"#111","dx":-40,"dy":-14.7},"encoding":{"text":{"field":"t"},"x":{"datum":"Cell","type":"nominal"},"y":{"datum":"miR-92a-3p","type":"nominal"}}},
{"data":{"values":[{"t":"I"}]},"mark":{"type":"text","fontSize":14,"fontWeight":"bold","color":"#000","dx":-76,"dy":-18},"encoding":{"text":{"field":"t"},"x":{"datum":"Cell","type":"nominal"},"y":{"datum":"miR-92a-3p","type":"nominal"}}}
]},
{"width":71.6,"height":472.3,
"layer":[
{"data":{"name":"i2"},"mark":{"type":"rect","stroke":"#777","strokeWidth":0.4},"encoding":{
"x":{"field":"c","type":"nominal","sort":null,"scale":{"domain":["Cell","sEV","NV"],"paddingInner":0,"paddingOuter":0},"axis":{"orient":"top","title":null,"labelAngle":0,"ticks":false,"labelFontSize":9,"labelPadding":2,"labelColor":"#222"}},
"y":{"field":"m","type":"nominal","sort":null,"scale":{"domain":["miR-125a-5p","miR-10a-5p","miR-92b-3p","miR-148a-3p","miR-3074-5p","miR-183-5p","miR-182-5p","miR-24-3p","miR-22-3p","miR-200c-3p","miR-193a-5p","miR-26a-5p","miR-92a-3p","miR-30d-5p","miR-27a-3p","miR-29a-3p","miR-27b-3p","let-7g-5p","miR-30a-3p","miR-146a-5p","miR-26b-5p","miR-181a-5p","miR-191-5p","miR-100-5p","let-7f-5p","miR-103b","miR-103a-3p","miR-99b-5p","miR-128","miR-125b-5p","miR-9-5p","miR-378a-3p","miR-3184-5p","miR-423-3p","miR-30a-5p","miR-151a-3p","miR-25-3p","let-7i-5p","miR-21-5p","miR-221-3p","let-7a-5p","miR-7-5p","miR-4443","miR-365a-5p","miR-3529-3p","miR-93-5p","miR-744-5p","miR-30c-5p","miR-1307-3p","let-7b-5p"],"paddingInner":0,"paddingOuter":0},"axis":{"title":null,"ticks":false,"labelFontSize":8.5,"labelFontStyle":"italic","labelPadding":3,"labelColor":"#555"}},
"color":{"field":"v","type":"quantitative","scale":{"type":"linear","interpolate":"rgb","domain":[-1.17,-0.75,-0.4,0,0.4,0.8,1.17],"range":["#2a00ff","#7a50ff","#c0a8ff","#ffffff","#e9b09a","#d8603f","#c81a14"]},"legend":{"orient":"none","legendX":75.6,"legendY":204.3,"title":null,"direction":"vertical","gradientLength":74.7,"gradientThickness":15,"gradientStrokeWidth":0,"values":[-1,-0.5,0,0.5,1],"format":".1f","labelFontSize":8.5}}}},
{"data":{"values":[{"t":"Gli36"}]},"mark":{"type":"text","fontSize":10.5,"fontWeight":"bold","color":"#111","dx":-42,"dy":-14.7},"encoding":{"text":{"field":"t"},"x":{"datum":"Cell","type":"nominal"},"y":{"datum":"miR-125a-5p","type":"nominal"}}}
]}
],"bounds":"flush","spacing":112.4,"resolve":{"scale":{"color":"independent"},"legend":{"color":"independent"}}}
],"bounds":"flush","spacing":47.4,"resolve":{"scale":{"color":"independent"},"legend":{"color":"independent"}}}
],"bounds":"flush","spacing":419,"resolve":{"scale":{"color":"independent"},"legend":{"color":"independent"}}}
]}
